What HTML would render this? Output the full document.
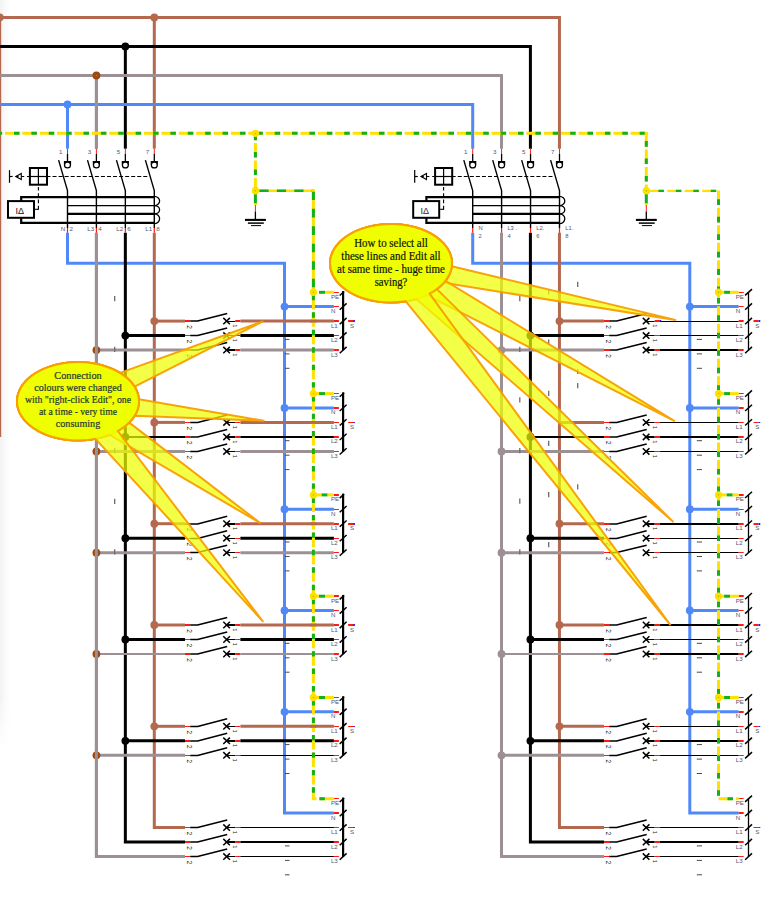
<!DOCTYPE html>
<html><head><meta charset="utf-8"><title>Wiring diagram</title>
<style>html,body{margin:0;padding:0;background:#fff;}svg{display:block;}</style></head>
<body>
<svg width="776" height="899" viewBox="0 0 776 899">
<defs><linearGradient id="sh" x1="0" x2="1" y1="0" y2="0"><stop offset="0" stop-color="#000" stop-opacity="0.052"/><stop offset="0.45" stop-color="#000" stop-opacity="0.022"/><stop offset="1" stop-color="#000" stop-opacity="0"/></linearGradient><linearGradient id="shm" x1="0" x2="0" y1="0" y2="1"><stop offset="0" stop-color="#fff"/><stop offset="0.775" stop-color="#fff"/><stop offset="0.835" stop-color="#000"/><stop offset="1" stop-color="#000"/></linearGradient><mask id="shmask" maskUnits="userSpaceOnUse" x="0" y="0" width="20" height="899"><rect x="0" y="0" width="20" height="899" fill="url(#shm)"/></mask></defs>
<rect width="776" height="899" fill="#fff"/>
<rect width="11" height="899" fill="url(#sh)" mask="url(#shmask)"/>
<path d="M-2 17.4 H559.45 V148.7" stroke="#b4694f" stroke-width="3" fill="none" stroke-linejoin="miter"/>
<path d="M-0.3 17.4 V437" stroke="#b4694f" stroke-width="3" fill="none" />
<path d="M154.3 17.4 V148.7" stroke="#b4694f" stroke-width="3" fill="none" />
<path d="M-2 46.4 H530.4 V148.7" stroke="#000" stroke-width="3" fill="none" />
<path d="M125.35 46.4 V148.7" stroke="#000" stroke-width="3" fill="none" />
<path d="M-2 75.5 H501.5 V148.7" stroke="#9d9094" stroke-width="3" fill="none" />
<path d="M-2 104.4 H472.7 V148.7" stroke="#5088f7" stroke-width="3" fill="none" />
<path d="M67.5 104.4 V148.7" stroke="#5088f7" stroke-width="3" fill="none" />
<path d="M67.5 232.8 V263.15 H284.5 V813.1 H333.9" stroke="#5088f7" stroke-width="3" fill="none" />
<line x1="284.5" y1="306.6" x2="333.9" y2="306.6" stroke="#5088f7" stroke-width="3" />
<line x1="284.5" y1="407.9" x2="333.9" y2="407.9" stroke="#5088f7" stroke-width="3" />
<line x1="284.5" y1="509.2" x2="333.9" y2="509.2" stroke="#5088f7" stroke-width="3" />
<line x1="284.5" y1="610.5" x2="333.9" y2="610.5" stroke="#5088f7" stroke-width="3" />
<line x1="284.5" y1="711.8" x2="333.9" y2="711.8" stroke="#5088f7" stroke-width="3" />
<path d="M154.3 232.8 V827.6 H185.0" stroke="#b4694f" stroke-width="3" fill="none" />
<path d="M125.35 232.8 V842.1 H185.0" stroke="#000" stroke-width="3" fill="none" />
<path d="M96.4 232.8 V856.6 H185.0" stroke="#9d9094" stroke-width="3" fill="none" />
<path d="M96.4 75.5 V148.7" stroke="#9d9094" stroke-width="3" fill="none" />
<line x1="154.3" y1="321.1" x2="185" y2="321.1" stroke="#b4694f" stroke-width="3" />
<line x1="125.35" y1="335.6" x2="185" y2="335.6" stroke="#000" stroke-width="3" />
<line x1="96.4" y1="350.1" x2="185" y2="350.1" stroke="#9d9094" stroke-width="3" />
<line x1="154.3" y1="422.4" x2="185" y2="422.4" stroke="#b4694f" stroke-width="3" />
<line x1="125.35" y1="436.9" x2="185" y2="436.9" stroke="#000" stroke-width="2" />
<line x1="96.4" y1="451.4" x2="185" y2="451.4" stroke="#9d9094" stroke-width="3" />
<line x1="154.3" y1="523.7" x2="185" y2="523.7" stroke="#b4694f" stroke-width="3" />
<line x1="125.35" y1="538.2" x2="185" y2="538.2" stroke="#000" stroke-width="3" />
<line x1="96.4" y1="552.7" x2="185" y2="552.7" stroke="#9d9094" stroke-width="3" />
<line x1="154.3" y1="625" x2="185" y2="625" stroke="#b4694f" stroke-width="3" />
<line x1="125.35" y1="639.5" x2="185" y2="639.5" stroke="#000" stroke-width="3" />
<line x1="96.4" y1="654" x2="185" y2="654" stroke="#9d9094" stroke-width="2.2" />
<line x1="154.3" y1="726.3" x2="185" y2="726.3" stroke="#b4694f" stroke-width="3" />
<line x1="125.35" y1="740.8" x2="185" y2="740.8" stroke="#000" stroke-width="3" />
<line x1="96.4" y1="755.3" x2="185" y2="755.3" stroke="#9d9094" stroke-width="3" />
<path d="M472.7 232.8 V263.15 H689.8 V813.1 H738.7" stroke="#5088f7" stroke-width="3" fill="none" />
<line x1="689.8" y1="306.6" x2="738.7" y2="306.6" stroke="#5088f7" stroke-width="3" />
<line x1="689.8" y1="407.9" x2="738.7" y2="407.9" stroke="#5088f7" stroke-width="3" />
<line x1="689.8" y1="509.2" x2="738.7" y2="509.2" stroke="#5088f7" stroke-width="3" />
<line x1="689.8" y1="610.5" x2="738.7" y2="610.5" stroke="#5088f7" stroke-width="3" />
<line x1="689.8" y1="711.8" x2="738.7" y2="711.8" stroke="#5088f7" stroke-width="3" />
<path d="M559.45 232.8 V827.6 H604.0" stroke="#b4694f" stroke-width="3" fill="none" />
<path d="M530.4 232.8 V842.1 H604.0" stroke="#000" stroke-width="3" fill="none" />
<path d="M501.5 232.8 V856.6 H604.0" stroke="#9d9094" stroke-width="3" fill="none" />
<line x1="559.45" y1="321.1" x2="604" y2="321.1" stroke="#b4694f" stroke-width="3" />
<line x1="530.4" y1="335.6" x2="604" y2="335.6" stroke="#000" stroke-width="3" />
<line x1="501.5" y1="350.1" x2="604" y2="350.1" stroke="#9d9094" stroke-width="3" />
<line x1="559.45" y1="422.4" x2="604" y2="422.4" stroke="#b4694f" stroke-width="3" />
<line x1="530.4" y1="436.9" x2="604" y2="436.9" stroke="#000" stroke-width="2" />
<line x1="501.5" y1="451.4" x2="604" y2="451.4" stroke="#9d9094" stroke-width="3" />
<line x1="559.45" y1="523.7" x2="604" y2="523.7" stroke="#b4694f" stroke-width="3" />
<line x1="530.4" y1="538.2" x2="604" y2="538.2" stroke="#000" stroke-width="3" />
<line x1="501.5" y1="552.7" x2="604" y2="552.7" stroke="#9d9094" stroke-width="3" />
<line x1="559.45" y1="625" x2="604" y2="625" stroke="#b4694f" stroke-width="3" />
<line x1="530.4" y1="639.5" x2="604" y2="639.5" stroke="#000" stroke-width="3" />
<line x1="501.5" y1="654" x2="604" y2="654" stroke="#9d9094" stroke-width="2.2" />
<line x1="559.45" y1="726.3" x2="604" y2="726.3" stroke="#b4694f" stroke-width="3" />
<line x1="530.4" y1="740.8" x2="604" y2="740.8" stroke="#000" stroke-width="3" />
<line x1="501.5" y1="755.3" x2="604" y2="755.3" stroke="#9d9094" stroke-width="3" />
<circle cx="154.3" cy="321.1" r="3.9" fill="#b4694f"/>
<circle cx="125.35" cy="335.6" r="3.9" fill="#000"/>
<circle cx="96.4" cy="350.1" r="3.9" fill="#9a4a12"/>
<circle cx="284.5" cy="306.6" r="3.9" fill="#5088f7"/>
<circle cx="154.3" cy="422.4" r="3.9" fill="#b4694f"/>
<circle cx="125.35" cy="436.9" r="3.9" fill="#000"/>
<circle cx="96.4" cy="451.4" r="3.9" fill="#9a4a12"/>
<circle cx="284.5" cy="407.9" r="3.9" fill="#5088f7"/>
<circle cx="154.3" cy="523.7" r="3.9" fill="#b4694f"/>
<circle cx="125.35" cy="538.2" r="3.9" fill="#000"/>
<circle cx="96.4" cy="552.7" r="3.9" fill="#9a4a12"/>
<circle cx="284.5" cy="509.2" r="3.9" fill="#5088f7"/>
<circle cx="154.3" cy="625" r="3.9" fill="#b4694f"/>
<circle cx="125.35" cy="639.5" r="3.9" fill="#000"/>
<circle cx="96.4" cy="654" r="3.9" fill="#9a4a12"/>
<circle cx="284.5" cy="610.5" r="3.9" fill="#5088f7"/>
<circle cx="154.3" cy="726.3" r="3.9" fill="#b4694f"/>
<circle cx="125.35" cy="740.8" r="3.9" fill="#000"/>
<circle cx="96.4" cy="755.3" r="3.9" fill="#9a4a12"/>
<circle cx="284.5" cy="711.8" r="3.9" fill="#5088f7"/>
<line x1="96.4" y1="75.5" x2="96.4" y2="148.7" stroke="#9d9094" stroke-width="3" />
<line x1="96.4" y1="232.8" x2="96.4" y2="856.6" stroke="#9d9094" stroke-width="3" />
<circle cx="559.45" cy="321.1" r="3.9" fill="#b4694f"/>
<circle cx="530.4" cy="335.6" r="3.9" fill="#000"/>
<circle cx="501.5" cy="350.1" r="3.9" fill="#9d9094"/>
<circle cx="689.8" cy="306.6" r="3.9" fill="#5088f7"/>
<circle cx="530.4" cy="436.9" r="3.9" fill="#000"/>
<circle cx="501.5" cy="451.4" r="3.9" fill="#9d9094"/>
<circle cx="689.8" cy="407.9" r="3.9" fill="#5088f7"/>
<circle cx="559.45" cy="523.7" r="3.9" fill="#b4694f"/>
<circle cx="530.4" cy="538.2" r="3.9" fill="#000"/>
<circle cx="501.5" cy="552.7" r="3.9" fill="#9d9094"/>
<circle cx="689.8" cy="509.2" r="3.9" fill="#5088f7"/>
<circle cx="559.45" cy="625" r="3.9" fill="#b4694f"/>
<circle cx="530.4" cy="639.5" r="3.9" fill="#000"/>
<circle cx="501.5" cy="654" r="3.9" fill="#9d9094"/>
<circle cx="689.8" cy="610.5" r="3.9" fill="#5088f7"/>
<circle cx="559.45" cy="726.3" r="3.9" fill="#b4694f"/>
<circle cx="530.4" cy="740.8" r="3.9" fill="#000"/>
<circle cx="501.5" cy="755.3" r="3.9" fill="#9d9094"/>
<circle cx="689.8" cy="711.8" r="3.9" fill="#5088f7"/>
<circle cx="-0.3" cy="17.4" r="3.9" fill="#b4694f"/>
<circle cx="154.3" cy="17.4" r="3.9" fill="#b4694f"/>
<circle cx="125.35" cy="46.4" r="3.9" fill="#000"/>
<circle cx="96.4" cy="75.5" r="3.9" fill="#9a4a12"/>
<circle cx="96.4" cy="75.5" r="0.8" fill="#c07838"/>
<circle cx="67.5" cy="104.4" r="3.9" fill="#5088f7"/>
<line x1="185" y1="321" x2="190.2" y2="321" stroke="#ff1a10" stroke-width="2" />
<path d="M190.2 321 H197.6 L227.2 313.6" stroke="#000" stroke-width="1.5" fill="none" stroke-linejoin="round"/>
<path d="M223.3 317.9 L229.9 324.3 M223.3 324.3 L229.9 317.9" stroke="#000" stroke-width="1.5" fill="none" />
<line x1="226.6" y1="321.5" x2="235.2" y2="321.5" stroke="#000" stroke-width="1" />
<line x1="235.2" y1="321" x2="240.4" y2="321" stroke="#ff1a10" stroke-width="2" />
<line x1="240.4" y1="321.1" x2="333.9" y2="321.1" stroke="#b4694f" stroke-width="3" />
<line x1="333.9" y1="321" x2="338.9" y2="321" stroke="#ff1a10" stroke-width="2" />
<text transform="translate(186.9 327.1) rotate(90)" font-family="'Liberation Sans', sans-serif" font-size="6.5" fill="#161616" text-anchor="middle">2</text>
<text transform="translate(233 325.9) rotate(90)" font-family="'Liberation Sans', sans-serif" font-size="5.6" fill="#222" text-anchor="middle">1</text>
<line x1="185" y1="335.5" x2="190.2" y2="335.5" stroke="#ff1a10" stroke-width="1" />
<path d="M190.2 335.5 H197.6 L227.2 328.1" stroke="#000" stroke-width="1.5" fill="none" stroke-linejoin="round"/>
<path d="M223.3 332.4 L229.9 338.8 M223.3 338.8 L229.9 332.4" stroke="#000" stroke-width="1.5" fill="none" />
<line x1="226.6" y1="335.5" x2="235.2" y2="335.5" stroke="#000" stroke-width="1" />
<line x1="235.2" y1="335.5" x2="240.4" y2="335.5" stroke="#ff1a10" stroke-width="1" />
<line x1="240.4" y1="335.6" x2="333.9" y2="335.6" stroke="#000" stroke-width="3" />
<line x1="333.9" y1="335.5" x2="338.9" y2="335.5" stroke="#ff1a10" stroke-width="1" />
<text transform="translate(186.9 341.6) rotate(90)" font-family="'Liberation Sans', sans-serif" font-size="6.5" fill="#161616" text-anchor="middle">2</text>
<text transform="translate(233 340.4) rotate(90)" font-family="'Liberation Sans', sans-serif" font-size="5.6" fill="#222" text-anchor="middle">1</text>
<line x1="185" y1="350" x2="190.2" y2="350" stroke="#ff1a10" stroke-width="2" />
<path d="M190.2 350 H197.6 L227.2 342.6" stroke="#000" stroke-width="1.5" fill="none" stroke-linejoin="round"/>
<path d="M223.3 346.9 L229.9 353.3 M223.3 353.3 L229.9 346.9" stroke="#000" stroke-width="1.5" fill="none" />
<line x1="226.6" y1="350" x2="235.2" y2="350" stroke="#000" stroke-width="2" />
<line x1="235.2" y1="350" x2="240.4" y2="350" stroke="#ff1a10" stroke-width="2" />
<line x1="240.4" y1="350.1" x2="333.9" y2="350.1" stroke="#9d9094" stroke-width="3" />
<line x1="333.9" y1="350" x2="338.9" y2="350" stroke="#ff1a10" stroke-width="2" />
<text transform="translate(186.9 356.1) rotate(90)" font-family="'Liberation Sans', sans-serif" font-size="6.5" fill="#161616" text-anchor="middle">2</text>
<text transform="translate(233 354.9) rotate(90)" font-family="'Liberation Sans', sans-serif" font-size="5.6" fill="#222" text-anchor="middle">1</text>
<line x1="333.9" y1="292.5" x2="338.9" y2="292.5" stroke="#ff1a10" stroke-width="1" />
<line x1="333.9" y1="306.5" x2="338.9" y2="306.5" stroke="#ff1a10" stroke-width="1" />
<line x1="343.1" y1="291.1" x2="343.1" y2="350.3" stroke="#000" stroke-width="2.2" />
<line x1="339.7" y1="295.5" x2="344.1" y2="291.5" stroke="#000" stroke-width="1.5" />
<text x="330.9" y="298.8" font-family="'Liberation Sans', sans-serif" font-size="6.2" fill="#56566e" text-anchor="start" >PE</text>
<line x1="339.7" y1="309.7" x2="346.6" y2="303.4" stroke="#000" stroke-width="1.5" />
<text x="330.9" y="313.1" font-family="'Liberation Sans', sans-serif" font-size="6.2" fill="#56566e" text-anchor="start" >N</text>
<line x1="339.7" y1="324.2" x2="346.6" y2="317.9" stroke="#000" stroke-width="1.5" />
<text x="330.9" y="327.6" font-family="'Liberation Sans', sans-serif" font-size="6.2" fill="#56566e" text-anchor="start" >L1</text>
<line x1="339.7" y1="338.7" x2="346.6" y2="332.4" stroke="#000" stroke-width="1.5" />
<text x="330.9" y="342.1" font-family="'Liberation Sans', sans-serif" font-size="6.2" fill="#56566e" text-anchor="start" >L2</text>
<line x1="339.7" y1="353.2" x2="346.6" y2="346.9" stroke="#000" stroke-width="1.5" />
<text x="330.9" y="356.6" font-family="'Liberation Sans', sans-serif" font-size="6.2" fill="#56566e" text-anchor="start" >L3</text>
<line x1="348.1" y1="321" x2="353.1" y2="321" stroke="#ff1a10" stroke-width="2" />
<line x1="353.1" y1="321" x2="354.9" y2="321" stroke="#3018f0" stroke-width="2" />
<text x="349.9" y="327.6" font-family="'Liberation Sans', sans-serif" font-size="6.2" fill="#56566e" text-anchor="start" >S</text>
<line x1="285" y1="339.4" x2="289.5" y2="339.4" stroke="#4a4a4a" stroke-width="1" />
<line x1="285" y1="353.9" x2="289.5" y2="353.9" stroke="#4a4a4a" stroke-width="1" />
<line x1="285" y1="368.3" x2="289.5" y2="368.3" stroke="#4a4a4a" stroke-width="1" />
<line x1="185" y1="422.5" x2="190.2" y2="422.5" stroke="#ff1a10" stroke-width="1" />
<path d="M190.2 422.5 H197.6 L227.2 414.9" stroke="#000" stroke-width="1.5" fill="none" stroke-linejoin="round"/>
<path d="M223.3 419.2 L229.9 425.6 M223.3 425.6 L229.9 419.2" stroke="#000" stroke-width="1.5" fill="none" />
<line x1="226.6" y1="422.5" x2="235.2" y2="422.5" stroke="#000" stroke-width="1" />
<line x1="235.2" y1="422.5" x2="240.4" y2="422.5" stroke="#ff1a10" stroke-width="1" />
<line x1="240.4" y1="422.4" x2="333.9" y2="422.4" stroke="#b4694f" stroke-width="3" />
<line x1="333.9" y1="422.5" x2="338.9" y2="422.5" stroke="#ff1a10" stroke-width="1" />
<text transform="translate(186.9 428.4) rotate(90)" font-family="'Liberation Sans', sans-serif" font-size="6.5" fill="#161616" text-anchor="middle">2</text>
<text transform="translate(233 427.2) rotate(90)" font-family="'Liberation Sans', sans-serif" font-size="5.6" fill="#222" text-anchor="middle">1</text>
<line x1="185" y1="437" x2="190.2" y2="437" stroke="#ff1a10" stroke-width="2" />
<path d="M190.2 437 H197.6 L227.2 429.4" stroke="#000" stroke-width="1.5" fill="none" stroke-linejoin="round"/>
<path d="M223.3 433.7 L229.9 440.1 M223.3 440.1 L229.9 433.7" stroke="#000" stroke-width="1.5" fill="none" />
<line x1="226.6" y1="437" x2="235.2" y2="437" stroke="#000" stroke-width="2" />
<line x1="235.2" y1="437" x2="240.4" y2="437" stroke="#ff1a10" stroke-width="2" />
<line x1="240.4" y1="437" x2="333.9" y2="437" stroke="#000" stroke-width="2" />
<line x1="333.9" y1="437" x2="338.9" y2="437" stroke="#ff1a10" stroke-width="2" />
<text transform="translate(186.9 442.9) rotate(90)" font-family="'Liberation Sans', sans-serif" font-size="6.5" fill="#161616" text-anchor="middle">2</text>
<text transform="translate(233 441.7) rotate(90)" font-family="'Liberation Sans', sans-serif" font-size="5.6" fill="#222" text-anchor="middle">1</text>
<line x1="185" y1="451.5" x2="190.2" y2="451.5" stroke="#ff1a10" stroke-width="1" />
<path d="M190.2 451.5 H197.6 L227.2 443.9" stroke="#000" stroke-width="1.5" fill="none" stroke-linejoin="round"/>
<path d="M223.3 448.2 L229.9 454.6 M223.3 454.6 L229.9 448.2" stroke="#000" stroke-width="1.5" fill="none" />
<line x1="226.6" y1="451.5" x2="235.2" y2="451.5" stroke="#000" stroke-width="1" />
<line x1="235.2" y1="451.5" x2="240.4" y2="451.5" stroke="#ff1a10" stroke-width="1" />
<line x1="240.4" y1="451.4" x2="333.9" y2="451.4" stroke="#9d9094" stroke-width="3" />
<line x1="333.9" y1="451.5" x2="338.9" y2="451.5" stroke="#ff1a10" stroke-width="1" />
<text transform="translate(186.9 457.4) rotate(90)" font-family="'Liberation Sans', sans-serif" font-size="6.5" fill="#161616" text-anchor="middle">2</text>
<text transform="translate(233 456.2) rotate(90)" font-family="'Liberation Sans', sans-serif" font-size="5.6" fill="#222" text-anchor="middle">1</text>
<line x1="333.9" y1="393.5" x2="338.9" y2="393.5" stroke="#ff1a10" stroke-width="1" />
<line x1="333.9" y1="408" x2="338.9" y2="408" stroke="#ff1a10" stroke-width="2" />
<line x1="343.1" y1="392.4" x2="343.1" y2="451.6" stroke="#000" stroke-width="2.2" />
<line x1="339.7" y1="396.8" x2="344.1" y2="392.8" stroke="#000" stroke-width="1.5" />
<text x="330.9" y="400.1" font-family="'Liberation Sans', sans-serif" font-size="6.2" fill="#56566e" text-anchor="start" >PE</text>
<line x1="339.7" y1="411" x2="346.6" y2="404.7" stroke="#000" stroke-width="1.5" />
<text x="330.9" y="414.4" font-family="'Liberation Sans', sans-serif" font-size="6.2" fill="#56566e" text-anchor="start" >N</text>
<line x1="339.7" y1="425.5" x2="346.6" y2="419.2" stroke="#000" stroke-width="1.5" />
<text x="330.9" y="428.9" font-family="'Liberation Sans', sans-serif" font-size="6.2" fill="#56566e" text-anchor="start" >L1</text>
<line x1="339.7" y1="440" x2="346.6" y2="433.7" stroke="#000" stroke-width="1.5" />
<text x="330.9" y="443.4" font-family="'Liberation Sans', sans-serif" font-size="6.2" fill="#56566e" text-anchor="start" >L2</text>
<line x1="339.7" y1="454.5" x2="346.6" y2="448.2" stroke="#000" stroke-width="1.5" />
<text x="330.9" y="457.9" font-family="'Liberation Sans', sans-serif" font-size="6.2" fill="#56566e" text-anchor="start" >L3</text>
<line x1="348.1" y1="422.5" x2="353.1" y2="422.5" stroke="#ff1a10" stroke-width="1" />
<line x1="353.1" y1="422.5" x2="354.9" y2="422.5" stroke="#3018f0" stroke-width="1" />
<text x="349.9" y="428.9" font-family="'Liberation Sans', sans-serif" font-size="6.2" fill="#56566e" text-anchor="start" >S</text>
<line x1="285" y1="440.7" x2="289.5" y2="440.7" stroke="#4a4a4a" stroke-width="1" />
<line x1="285" y1="455.2" x2="289.5" y2="455.2" stroke="#4a4a4a" stroke-width="1" />
<line x1="285" y1="469.6" x2="289.5" y2="469.6" stroke="#4a4a4a" stroke-width="1" />
<line x1="185" y1="524" x2="190.2" y2="524" stroke="#ff1a10" stroke-width="2" />
<path d="M190.2 524 H197.6 L227.2 516.2" stroke="#000" stroke-width="1.5" fill="none" stroke-linejoin="round"/>
<path d="M223.3 520.5 L229.9 526.9 M223.3 526.9 L229.9 520.5" stroke="#000" stroke-width="1.5" fill="none" />
<line x1="226.6" y1="524" x2="235.2" y2="524" stroke="#000" stroke-width="2" />
<line x1="235.2" y1="524" x2="240.4" y2="524" stroke="#ff1a10" stroke-width="2" />
<line x1="240.4" y1="523.7" x2="333.9" y2="523.7" stroke="#b4694f" stroke-width="3" />
<line x1="333.9" y1="524" x2="338.9" y2="524" stroke="#ff1a10" stroke-width="2" />
<text transform="translate(186.9 529.7) rotate(90)" font-family="'Liberation Sans', sans-serif" font-size="6.5" fill="#161616" text-anchor="middle">2</text>
<text transform="translate(233 528.5) rotate(90)" font-family="'Liberation Sans', sans-serif" font-size="5.6" fill="#222" text-anchor="middle">1</text>
<line x1="185" y1="538.5" x2="190.2" y2="538.5" stroke="#ff1a10" stroke-width="1" />
<path d="M190.2 538.5 H197.6 L227.2 530.7" stroke="#000" stroke-width="1.5" fill="none" stroke-linejoin="round"/>
<path d="M223.3 535 L229.9 541.4 M223.3 541.4 L229.9 535" stroke="#000" stroke-width="1.5" fill="none" />
<line x1="226.6" y1="538.5" x2="235.2" y2="538.5" stroke="#000" stroke-width="1" />
<line x1="235.2" y1="538.5" x2="240.4" y2="538.5" stroke="#ff1a10" stroke-width="1" />
<line x1="240.4" y1="538.2" x2="333.9" y2="538.2" stroke="#000" stroke-width="3" />
<line x1="333.9" y1="538.5" x2="338.9" y2="538.5" stroke="#ff1a10" stroke-width="1" />
<text transform="translate(186.9 544.2) rotate(90)" font-family="'Liberation Sans', sans-serif" font-size="6.5" fill="#161616" text-anchor="middle">2</text>
<text transform="translate(233 543) rotate(90)" font-family="'Liberation Sans', sans-serif" font-size="5.6" fill="#222" text-anchor="middle">1</text>
<line x1="185" y1="552.5" x2="190.2" y2="552.5" stroke="#ff1a10" stroke-width="1" />
<path d="M190.2 552.5 H197.6 L227.2 545.2" stroke="#000" stroke-width="1.5" fill="none" stroke-linejoin="round"/>
<path d="M223.3 549.5 L229.9 555.9 M223.3 555.9 L229.9 549.5" stroke="#000" stroke-width="1.5" fill="none" />
<line x1="226.6" y1="552.5" x2="235.2" y2="552.5" stroke="#000" stroke-width="1" />
<line x1="235.2" y1="552.5" x2="240.4" y2="552.5" stroke="#ff1a10" stroke-width="1" />
<line x1="240.4" y1="552.7" x2="333.9" y2="552.7" stroke="#9d9094" stroke-width="3" />
<line x1="333.9" y1="552.5" x2="338.9" y2="552.5" stroke="#ff1a10" stroke-width="1" />
<text transform="translate(186.9 558.7) rotate(90)" font-family="'Liberation Sans', sans-serif" font-size="6.5" fill="#161616" text-anchor="middle">2</text>
<text transform="translate(233 557.5) rotate(90)" font-family="'Liberation Sans', sans-serif" font-size="5.6" fill="#222" text-anchor="middle">1</text>
<line x1="333.9" y1="495" x2="338.9" y2="495" stroke="#ff1a10" stroke-width="2" />
<line x1="333.9" y1="509.5" x2="338.9" y2="509.5" stroke="#ff1a10" stroke-width="1" />
<line x1="343.1" y1="493.7" x2="343.1" y2="552.9" stroke="#000" stroke-width="2.2" />
<line x1="339.7" y1="498.1" x2="344.1" y2="494.1" stroke="#000" stroke-width="1.5" />
<text x="330.9" y="501.4" font-family="'Liberation Sans', sans-serif" font-size="6.2" fill="#56566e" text-anchor="start" >PE</text>
<line x1="339.7" y1="512.3" x2="346.6" y2="506" stroke="#000" stroke-width="1.5" />
<text x="330.9" y="515.7" font-family="'Liberation Sans', sans-serif" font-size="6.2" fill="#56566e" text-anchor="start" >N</text>
<line x1="339.7" y1="526.8" x2="346.6" y2="520.5" stroke="#000" stroke-width="1.5" />
<text x="330.9" y="530.2" font-family="'Liberation Sans', sans-serif" font-size="6.2" fill="#56566e" text-anchor="start" >L1</text>
<line x1="339.7" y1="541.3" x2="346.6" y2="535" stroke="#000" stroke-width="1.5" />
<text x="330.9" y="544.7" font-family="'Liberation Sans', sans-serif" font-size="6.2" fill="#56566e" text-anchor="start" >L2</text>
<line x1="339.7" y1="555.8" x2="346.6" y2="549.5" stroke="#000" stroke-width="1.5" />
<text x="330.9" y="559.2" font-family="'Liberation Sans', sans-serif" font-size="6.2" fill="#56566e" text-anchor="start" >L3</text>
<line x1="348.1" y1="524" x2="353.1" y2="524" stroke="#ff1a10" stroke-width="2" />
<line x1="353.1" y1="524" x2="354.9" y2="524" stroke="#3018f0" stroke-width="2" />
<text x="349.9" y="530.2" font-family="'Liberation Sans', sans-serif" font-size="6.2" fill="#56566e" text-anchor="start" >S</text>
<line x1="285" y1="542" x2="289.5" y2="542" stroke="#4a4a4a" stroke-width="1" />
<line x1="285" y1="556.5" x2="289.5" y2="556.5" stroke="#4a4a4a" stroke-width="1" />
<line x1="285" y1="570.9" x2="289.5" y2="570.9" stroke="#4a4a4a" stroke-width="1" />
<line x1="185" y1="625" x2="190.2" y2="625" stroke="#ff1a10" stroke-width="2" />
<path d="M190.2 625 H197.6 L227.2 617.5" stroke="#000" stroke-width="1.5" fill="none" stroke-linejoin="round"/>
<path d="M223.3 621.8 L229.9 628.2 M223.3 628.2 L229.9 621.8" stroke="#000" stroke-width="1.5" fill="none" />
<line x1="226.6" y1="625" x2="235.2" y2="625" stroke="#000" stroke-width="2" />
<line x1="235.2" y1="625" x2="240.4" y2="625" stroke="#ff1a10" stroke-width="2" />
<line x1="240.4" y1="625" x2="333.9" y2="625" stroke="#b4694f" stroke-width="3" />
<line x1="333.9" y1="625" x2="338.9" y2="625" stroke="#ff1a10" stroke-width="2" />
<text transform="translate(186.9 631) rotate(90)" font-family="'Liberation Sans', sans-serif" font-size="6.5" fill="#161616" text-anchor="middle">2</text>
<text transform="translate(233 629.8) rotate(90)" font-family="'Liberation Sans', sans-serif" font-size="5.6" fill="#222" text-anchor="middle">1</text>
<line x1="185" y1="639.5" x2="190.2" y2="639.5" stroke="#ff1a10" stroke-width="1" />
<path d="M190.2 639.5 H197.6 L227.2 632" stroke="#000" stroke-width="1.5" fill="none" stroke-linejoin="round"/>
<path d="M223.3 636.3 L229.9 642.7 M223.3 642.7 L229.9 636.3" stroke="#000" stroke-width="1.5" fill="none" />
<line x1="226.6" y1="639.5" x2="235.2" y2="639.5" stroke="#000" stroke-width="1" />
<line x1="235.2" y1="639.5" x2="240.4" y2="639.5" stroke="#ff1a10" stroke-width="1" />
<line x1="240.4" y1="639.5" x2="333.9" y2="639.5" stroke="#000" stroke-width="3" />
<line x1="333.9" y1="639.5" x2="338.9" y2="639.5" stroke="#ff1a10" stroke-width="1" />
<text transform="translate(186.9 645.5) rotate(90)" font-family="'Liberation Sans', sans-serif" font-size="6.5" fill="#161616" text-anchor="middle">2</text>
<text transform="translate(233 644.3) rotate(90)" font-family="'Liberation Sans', sans-serif" font-size="5.6" fill="#222" text-anchor="middle">1</text>
<line x1="185" y1="654" x2="190.2" y2="654" stroke="#ff1a10" stroke-width="2" />
<path d="M190.2 654 H197.6 L227.2 646.5" stroke="#000" stroke-width="1.5" fill="none" stroke-linejoin="round"/>
<path d="M223.3 650.8 L229.9 657.2 M223.3 657.2 L229.9 650.8" stroke="#000" stroke-width="1.5" fill="none" />
<line x1="226.6" y1="654" x2="235.2" y2="654" stroke="#000" stroke-width="2" />
<line x1="235.2" y1="654" x2="240.4" y2="654" stroke="#ff1a10" stroke-width="2" />
<line x1="240.4" y1="654" x2="333.9" y2="654" stroke="#9d9094" stroke-width="2.2" />
<line x1="333.9" y1="654" x2="338.9" y2="654" stroke="#ff1a10" stroke-width="2" />
<text transform="translate(186.9 660) rotate(90)" font-family="'Liberation Sans', sans-serif" font-size="6.5" fill="#161616" text-anchor="middle">2</text>
<text transform="translate(233 658.8) rotate(90)" font-family="'Liberation Sans', sans-serif" font-size="5.6" fill="#222" text-anchor="middle">1</text>
<line x1="333.9" y1="596" x2="338.9" y2="596" stroke="#ff1a10" stroke-width="2" />
<line x1="333.9" y1="610.5" x2="338.9" y2="610.5" stroke="#ff1a10" stroke-width="1" />
<line x1="343.1" y1="595" x2="343.1" y2="654.2" stroke="#000" stroke-width="2.2" />
<line x1="339.7" y1="599.4" x2="344.1" y2="595.4" stroke="#000" stroke-width="1.5" />
<text x="330.9" y="602.7" font-family="'Liberation Sans', sans-serif" font-size="6.2" fill="#56566e" text-anchor="start" >PE</text>
<line x1="339.7" y1="613.6" x2="346.6" y2="607.3" stroke="#000" stroke-width="1.5" />
<text x="330.9" y="617" font-family="'Liberation Sans', sans-serif" font-size="6.2" fill="#56566e" text-anchor="start" >N</text>
<line x1="339.7" y1="628.1" x2="346.6" y2="621.8" stroke="#000" stroke-width="1.5" />
<text x="330.9" y="631.5" font-family="'Liberation Sans', sans-serif" font-size="6.2" fill="#56566e" text-anchor="start" >L1</text>
<line x1="339.7" y1="642.6" x2="346.6" y2="636.3" stroke="#000" stroke-width="1.5" />
<text x="330.9" y="646" font-family="'Liberation Sans', sans-serif" font-size="6.2" fill="#56566e" text-anchor="start" >L2</text>
<line x1="339.7" y1="657.1" x2="346.6" y2="650.8" stroke="#000" stroke-width="1.5" />
<text x="330.9" y="660.5" font-family="'Liberation Sans', sans-serif" font-size="6.2" fill="#56566e" text-anchor="start" >L3</text>
<line x1="348.1" y1="625" x2="353.1" y2="625" stroke="#ff1a10" stroke-width="2" />
<line x1="353.1" y1="625" x2="354.9" y2="625" stroke="#3018f0" stroke-width="2" />
<text x="349.9" y="631.5" font-family="'Liberation Sans', sans-serif" font-size="6.2" fill="#56566e" text-anchor="start" >S</text>
<line x1="285" y1="643.3" x2="289.5" y2="643.3" stroke="#4a4a4a" stroke-width="1" />
<line x1="285" y1="657.8" x2="289.5" y2="657.8" stroke="#4a4a4a" stroke-width="1" />
<line x1="285" y1="672.2" x2="289.5" y2="672.2" stroke="#4a4a4a" stroke-width="1" />
<line x1="185" y1="726.5" x2="190.2" y2="726.5" stroke="#ff1a10" stroke-width="1" />
<path d="M190.2 726.5 H197.6 L227.2 718.8" stroke="#000" stroke-width="1.5" fill="none" stroke-linejoin="round"/>
<path d="M223.3 723.1 L229.9 729.5 M223.3 729.5 L229.9 723.1" stroke="#000" stroke-width="1.5" fill="none" />
<line x1="226.6" y1="726.5" x2="235.2" y2="726.5" stroke="#000" stroke-width="1" />
<line x1="235.2" y1="726.5" x2="240.4" y2="726.5" stroke="#ff1a10" stroke-width="1" />
<line x1="240.4" y1="726.3" x2="333.9" y2="726.3" stroke="#b4694f" stroke-width="3" />
<line x1="333.9" y1="726.5" x2="338.9" y2="726.5" stroke="#ff1a10" stroke-width="1" />
<text transform="translate(186.9 732.3) rotate(90)" font-family="'Liberation Sans', sans-serif" font-size="6.5" fill="#161616" text-anchor="middle">2</text>
<text transform="translate(233 731.1) rotate(90)" font-family="'Liberation Sans', sans-serif" font-size="5.6" fill="#222" text-anchor="middle">1</text>
<line x1="185" y1="741" x2="190.2" y2="741" stroke="#ff1a10" stroke-width="2" />
<path d="M190.2 741 H197.6 L227.2 733.3" stroke="#000" stroke-width="1.5" fill="none" stroke-linejoin="round"/>
<path d="M223.3 737.6 L229.9 744 M223.3 744 L229.9 737.6" stroke="#000" stroke-width="1.5" fill="none" />
<line x1="226.6" y1="741" x2="235.2" y2="741" stroke="#000" stroke-width="2" />
<line x1="235.2" y1="741" x2="240.4" y2="741" stroke="#ff1a10" stroke-width="2" />
<line x1="240.4" y1="740.8" x2="333.9" y2="740.8" stroke="#000" stroke-width="3" />
<line x1="333.9" y1="741" x2="338.9" y2="741" stroke="#ff1a10" stroke-width="2" />
<text transform="translate(186.9 746.8) rotate(90)" font-family="'Liberation Sans', sans-serif" font-size="6.5" fill="#161616" text-anchor="middle">2</text>
<text transform="translate(233 745.6) rotate(90)" font-family="'Liberation Sans', sans-serif" font-size="5.6" fill="#222" text-anchor="middle">1</text>
<line x1="185" y1="755.5" x2="190.2" y2="755.5" stroke="#ff1a10" stroke-width="1" />
<path d="M190.2 755.5 H197.6 L227.2 747.8" stroke="#000" stroke-width="1.5" fill="none" stroke-linejoin="round"/>
<path d="M223.3 752.1 L229.9 758.5 M223.3 758.5 L229.9 752.1" stroke="#000" stroke-width="1.5" fill="none" />
<line x1="226.6" y1="755.5" x2="235.2" y2="755.5" stroke="#000" stroke-width="1" />
<line x1="235.2" y1="755.5" x2="240.4" y2="755.5" stroke="#ff1a10" stroke-width="1" />
<line x1="240.4" y1="755.5" x2="333.9" y2="755.5" stroke="#000" stroke-width="1" />
<line x1="333.9" y1="755.5" x2="338.9" y2="755.5" stroke="#ff1a10" stroke-width="1" />
<text transform="translate(186.9 761.3) rotate(90)" font-family="'Liberation Sans', sans-serif" font-size="6.5" fill="#161616" text-anchor="middle">2</text>
<text transform="translate(233 760.1) rotate(90)" font-family="'Liberation Sans', sans-serif" font-size="5.6" fill="#222" text-anchor="middle">1</text>
<line x1="333.9" y1="697.5" x2="338.9" y2="697.5" stroke="#ff1a10" stroke-width="1" />
<line x1="333.9" y1="712" x2="338.9" y2="712" stroke="#ff1a10" stroke-width="2" />
<line x1="343.1" y1="696.3" x2="343.1" y2="755.5" stroke="#000" stroke-width="2.2" />
<line x1="339.7" y1="700.7" x2="344.1" y2="696.7" stroke="#000" stroke-width="1.5" />
<text x="330.9" y="704" font-family="'Liberation Sans', sans-serif" font-size="6.2" fill="#56566e" text-anchor="start" >PE</text>
<line x1="339.7" y1="714.9" x2="346.6" y2="708.6" stroke="#000" stroke-width="1.5" />
<text x="330.9" y="718.3" font-family="'Liberation Sans', sans-serif" font-size="6.2" fill="#56566e" text-anchor="start" >N</text>
<line x1="339.7" y1="729.4" x2="346.6" y2="723.1" stroke="#000" stroke-width="1.5" />
<text x="330.9" y="732.8" font-family="'Liberation Sans', sans-serif" font-size="6.2" fill="#56566e" text-anchor="start" >L1</text>
<line x1="339.7" y1="743.9" x2="346.6" y2="737.6" stroke="#000" stroke-width="1.5" />
<text x="330.9" y="747.3" font-family="'Liberation Sans', sans-serif" font-size="6.2" fill="#56566e" text-anchor="start" >L2</text>
<line x1="339.7" y1="758.4" x2="346.6" y2="752.1" stroke="#000" stroke-width="1.5" />
<text x="330.9" y="761.8" font-family="'Liberation Sans', sans-serif" font-size="6.2" fill="#56566e" text-anchor="start" >L3</text>
<line x1="348.1" y1="726.5" x2="353.1" y2="726.5" stroke="#ff1a10" stroke-width="1" />
<line x1="353.1" y1="726.5" x2="354.9" y2="726.5" stroke="#3018f0" stroke-width="1" />
<text x="349.9" y="732.8" font-family="'Liberation Sans', sans-serif" font-size="6.2" fill="#56566e" text-anchor="start" >S</text>
<line x1="285" y1="744.6" x2="289.5" y2="744.6" stroke="#4a4a4a" stroke-width="1" />
<line x1="285" y1="759.1" x2="289.5" y2="759.1" stroke="#4a4a4a" stroke-width="1" />
<line x1="285" y1="773.5" x2="289.5" y2="773.5" stroke="#4a4a4a" stroke-width="1" />
<line x1="185" y1="827.5" x2="190.2" y2="827.5" stroke="#ff1a10" stroke-width="1" />
<path d="M190.2 827.5 H197.6 L227.2 820.1" stroke="#000" stroke-width="1.5" fill="none" stroke-linejoin="round"/>
<path d="M223.3 824.4 L229.9 830.8 M223.3 830.8 L229.9 824.4" stroke="#000" stroke-width="1.5" fill="none" />
<line x1="226.6" y1="827.5" x2="235.2" y2="827.5" stroke="#000" stroke-width="1" />
<line x1="235.2" y1="827.5" x2="240.4" y2="827.5" stroke="#ff1a10" stroke-width="1" />
<line x1="240.4" y1="827.5" x2="333.9" y2="827.5" stroke="#000" stroke-width="1" />
<line x1="333.9" y1="827.5" x2="338.9" y2="827.5" stroke="#ff1a10" stroke-width="1" />
<text transform="translate(186.9 833.6) rotate(90)" font-family="'Liberation Sans', sans-serif" font-size="6.5" fill="#161616" text-anchor="middle">2</text>
<text transform="translate(233 832.4) rotate(90)" font-family="'Liberation Sans', sans-serif" font-size="5.6" fill="#222" text-anchor="middle">1</text>
<line x1="185" y1="842" x2="190.2" y2="842" stroke="#ff1a10" stroke-width="2" />
<path d="M190.2 842 H197.6 L227.2 834.6" stroke="#000" stroke-width="1.5" fill="none" stroke-linejoin="round"/>
<path d="M223.3 838.9 L229.9 845.3 M223.3 845.3 L229.9 838.9" stroke="#000" stroke-width="1.5" fill="none" />
<line x1="226.6" y1="842" x2="235.2" y2="842" stroke="#000" stroke-width="2" />
<line x1="235.2" y1="842" x2="240.4" y2="842" stroke="#ff1a10" stroke-width="2" />
<line x1="240.4" y1="842" x2="333.9" y2="842" stroke="#000" stroke-width="2" />
<line x1="333.9" y1="842" x2="338.9" y2="842" stroke="#ff1a10" stroke-width="2" />
<text transform="translate(186.9 848.1) rotate(90)" font-family="'Liberation Sans', sans-serif" font-size="6.5" fill="#161616" text-anchor="middle">2</text>
<text transform="translate(233 846.9) rotate(90)" font-family="'Liberation Sans', sans-serif" font-size="5.6" fill="#222" text-anchor="middle">1</text>
<line x1="185" y1="856.5" x2="190.2" y2="856.5" stroke="#ff1a10" stroke-width="1" />
<path d="M190.2 856.5 H197.6 L227.2 849.1" stroke="#000" stroke-width="1.5" fill="none" stroke-linejoin="round"/>
<path d="M223.3 853.4 L229.9 859.8 M223.3 859.8 L229.9 853.4" stroke="#000" stroke-width="1.5" fill="none" />
<line x1="226.6" y1="856.5" x2="235.2" y2="856.5" stroke="#000" stroke-width="1" />
<line x1="235.2" y1="856.5" x2="240.4" y2="856.5" stroke="#ff1a10" stroke-width="1" />
<line x1="240.4" y1="856.5" x2="333.9" y2="856.5" stroke="#000" stroke-width="1" />
<line x1="333.9" y1="856.5" x2="338.9" y2="856.5" stroke="#ff1a10" stroke-width="1" />
<text transform="translate(186.9 862.6) rotate(90)" font-family="'Liberation Sans', sans-serif" font-size="6.5" fill="#161616" text-anchor="middle">2</text>
<text transform="translate(233 861.4) rotate(90)" font-family="'Liberation Sans', sans-serif" font-size="5.6" fill="#222" text-anchor="middle">1</text>
<line x1="333.9" y1="798.5" x2="338.9" y2="798.5" stroke="#ff1a10" stroke-width="1" />
<line x1="333.9" y1="813" x2="338.9" y2="813" stroke="#ff1a10" stroke-width="2" />
<line x1="343.1" y1="797.6" x2="343.1" y2="856.8" stroke="#000" stroke-width="2.2" />
<line x1="339.7" y1="802" x2="344.1" y2="798" stroke="#000" stroke-width="1.5" />
<text x="330.9" y="805.3" font-family="'Liberation Sans', sans-serif" font-size="6.2" fill="#56566e" text-anchor="start" >PE</text>
<line x1="339.7" y1="816.2" x2="346.6" y2="809.9" stroke="#000" stroke-width="1.5" />
<text x="330.9" y="819.6" font-family="'Liberation Sans', sans-serif" font-size="6.2" fill="#56566e" text-anchor="start" >N</text>
<line x1="339.7" y1="830.7" x2="346.6" y2="824.4" stroke="#000" stroke-width="1.5" />
<text x="330.9" y="834.1" font-family="'Liberation Sans', sans-serif" font-size="6.2" fill="#56566e" text-anchor="start" >L1</text>
<line x1="339.7" y1="845.2" x2="346.6" y2="838.9" stroke="#000" stroke-width="1.5" />
<text x="330.9" y="848.6" font-family="'Liberation Sans', sans-serif" font-size="6.2" fill="#56566e" text-anchor="start" >L2</text>
<line x1="339.7" y1="859.7" x2="346.6" y2="853.4" stroke="#000" stroke-width="1.5" />
<text x="330.9" y="863.1" font-family="'Liberation Sans', sans-serif" font-size="6.2" fill="#56566e" text-anchor="start" >L3</text>
<line x1="348.1" y1="827.5" x2="353.1" y2="827.5" stroke="#ff1a10" stroke-width="1" />
<line x1="353.1" y1="827.5" x2="354.9" y2="827.5" stroke="#3018f0" stroke-width="1" />
<text x="349.9" y="834.1" font-family="'Liberation Sans', sans-serif" font-size="6.2" fill="#56566e" text-anchor="start" >S</text>
<line x1="285" y1="845.9" x2="289.5" y2="845.9" stroke="#4a4a4a" stroke-width="1" />
<line x1="285" y1="860.4" x2="289.5" y2="860.4" stroke="#4a4a4a" stroke-width="1" />
<line x1="285" y1="874.8" x2="289.5" y2="874.8" stroke="#4a4a4a" stroke-width="1" />
<line x1="604" y1="321" x2="609.2" y2="321" stroke="#ff1a10" stroke-width="2" />
<path d="M609.2 321 H616.6 L646.7 313.6" stroke="#000" stroke-width="1.5" fill="none" stroke-linejoin="round"/>
<path d="M642.8 317.9 L649.4 324.3 M642.8 324.3 L649.4 317.9" stroke="#000" stroke-width="1.5" fill="none" />
<line x1="646.1" y1="321.5" x2="654.7" y2="321.5" stroke="#000" stroke-width="1" />
<line x1="654.7" y1="321" x2="659.9" y2="321" stroke="#ff1a10" stroke-width="2" />
<line x1="659.7" y1="321" x2="661.3" y2="321" stroke="#3018f0" stroke-width="2" />
<line x1="659.9" y1="321.5" x2="738.7" y2="321.5" stroke="#000" stroke-width="1" />
<line x1="738.7" y1="321" x2="743.7" y2="321" stroke="#ff1a10" stroke-width="2" />
<text transform="translate(605.9 327.1) rotate(90)" font-family="'Liberation Sans', sans-serif" font-size="6.5" fill="#161616" text-anchor="middle">2</text>
<text transform="translate(652.5 325.9) rotate(90)" font-family="'Liberation Sans', sans-serif" font-size="5.6" fill="#222" text-anchor="middle">1</text>
<line x1="604" y1="335.5" x2="609.2" y2="335.5" stroke="#ff1a10" stroke-width="1" />
<path d="M609.2 335.5 H616.6 L646.7 328.1" stroke="#000" stroke-width="1.5" fill="none" stroke-linejoin="round"/>
<path d="M642.8 332.4 L649.4 338.8 M642.8 338.8 L649.4 332.4" stroke="#000" stroke-width="1.5" fill="none" />
<line x1="646.1" y1="335.5" x2="654.7" y2="335.5" stroke="#000" stroke-width="1" />
<line x1="654.7" y1="335.5" x2="659.9" y2="335.5" stroke="#ff1a10" stroke-width="1" />
<line x1="659.9" y1="335.5" x2="738.7" y2="335.5" stroke="#000" stroke-width="1" />
<line x1="738.7" y1="335.5" x2="743.7" y2="335.5" stroke="#ff1a10" stroke-width="1" />
<text transform="translate(605.9 341.6) rotate(90)" font-family="'Liberation Sans', sans-serif" font-size="6.5" fill="#161616" text-anchor="middle">2</text>
<text transform="translate(652.5 340.4) rotate(90)" font-family="'Liberation Sans', sans-serif" font-size="5.6" fill="#222" text-anchor="middle">1</text>
<line x1="604" y1="350" x2="609.2" y2="350" stroke="#ff1a10" stroke-width="2" />
<path d="M609.2 350 H616.6 L646.7 342.6" stroke="#000" stroke-width="1.5" fill="none" stroke-linejoin="round"/>
<path d="M642.8 346.9 L649.4 353.3 M642.8 353.3 L649.4 346.9" stroke="#000" stroke-width="1.5" fill="none" />
<line x1="646.1" y1="350" x2="654.7" y2="350" stroke="#000" stroke-width="2" />
<line x1="654.7" y1="350" x2="659.9" y2="350" stroke="#ff1a10" stroke-width="2" />
<line x1="659.9" y1="350" x2="738.7" y2="350" stroke="#000" stroke-width="2" />
<line x1="738.7" y1="350" x2="743.7" y2="350" stroke="#ff1a10" stroke-width="2" />
<text transform="translate(605.9 356.1) rotate(90)" font-family="'Liberation Sans', sans-serif" font-size="6.5" fill="#161616" text-anchor="middle">2</text>
<text transform="translate(652.5 354.9) rotate(90)" font-family="'Liberation Sans', sans-serif" font-size="5.6" fill="#222" text-anchor="middle">1</text>
<line x1="738.7" y1="292.5" x2="743.7" y2="292.5" stroke="#ff1a10" stroke-width="1" />
<line x1="738.7" y1="306.5" x2="743.7" y2="306.5" stroke="#ff1a10" stroke-width="1" />
<line x1="748.5" y1="292.3" x2="748.5" y2="350.3" stroke="#000" stroke-width="1.3" />
<line x1="745.1" y1="295.4" x2="752" y2="289.1" stroke="#000" stroke-width="1.5" />
<text x="735.7" y="298.8" font-family="'Liberation Sans', sans-serif" font-size="6.2" fill="#56566e" text-anchor="start" >PE</text>
<line x1="745.1" y1="309.7" x2="752" y2="303.4" stroke="#000" stroke-width="1.5" />
<text x="735.7" y="313.1" font-family="'Liberation Sans', sans-serif" font-size="6.2" fill="#56566e" text-anchor="start" >N</text>
<line x1="745.1" y1="324.2" x2="752" y2="317.9" stroke="#000" stroke-width="1.5" />
<text x="735.7" y="327.6" font-family="'Liberation Sans', sans-serif" font-size="6.2" fill="#56566e" text-anchor="start" >L1</text>
<line x1="745.1" y1="338.7" x2="752" y2="332.4" stroke="#000" stroke-width="1.5" />
<text x="735.7" y="342.1" font-family="'Liberation Sans', sans-serif" font-size="6.2" fill="#56566e" text-anchor="start" >L2</text>
<line x1="745.1" y1="353.2" x2="752" y2="346.9" stroke="#000" stroke-width="1.5" />
<text x="735.7" y="356.6" font-family="'Liberation Sans', sans-serif" font-size="6.2" fill="#56566e" text-anchor="start" >L3</text>
<line x1="753.5" y1="321" x2="758.5" y2="321" stroke="#ff1a10" stroke-width="2" />
<line x1="758.5" y1="321" x2="760.3" y2="321" stroke="#3018f0" stroke-width="2" />
<text x="755.3" y="327.6" font-family="'Liberation Sans', sans-serif" font-size="6.2" fill="#56566e" text-anchor="start" >S</text>
<line x1="696.8" y1="339.4" x2="702" y2="339.4" stroke="#4a4a4a" stroke-width="1" />
<line x1="696.8" y1="353.9" x2="702" y2="353.9" stroke="#4a4a4a" stroke-width="1" />
<line x1="696.8" y1="368.3" x2="702" y2="368.3" stroke="#4a4a4a" stroke-width="1" />
<line x1="604" y1="422.5" x2="609.2" y2="422.5" stroke="#ff1a10" stroke-width="1" />
<path d="M609.2 422.5 H616.6 L646.7 414.9" stroke="#000" stroke-width="1.5" fill="none" stroke-linejoin="round"/>
<path d="M642.8 419.2 L649.4 425.6 M642.8 425.6 L649.4 419.2" stroke="#000" stroke-width="1.5" fill="none" />
<line x1="646.1" y1="422.5" x2="654.7" y2="422.5" stroke="#000" stroke-width="1" />
<line x1="654.7" y1="422.5" x2="659.9" y2="422.5" stroke="#ff1a10" stroke-width="1" />
<line x1="659.9" y1="422.5" x2="738.7" y2="422.5" stroke="#000" stroke-width="1" />
<line x1="738.7" y1="422.5" x2="743.7" y2="422.5" stroke="#ff1a10" stroke-width="1" />
<text transform="translate(605.9 428.4) rotate(90)" font-family="'Liberation Sans', sans-serif" font-size="6.5" fill="#161616" text-anchor="middle">2</text>
<text transform="translate(652.5 427.2) rotate(90)" font-family="'Liberation Sans', sans-serif" font-size="5.6" fill="#222" text-anchor="middle">1</text>
<line x1="604" y1="437" x2="609.2" y2="437" stroke="#ff1a10" stroke-width="2" />
<path d="M609.2 437 H616.6 L646.7 429.4" stroke="#000" stroke-width="1.5" fill="none" stroke-linejoin="round"/>
<path d="M642.8 433.7 L649.4 440.1 M642.8 440.1 L649.4 433.7" stroke="#000" stroke-width="1.5" fill="none" />
<line x1="646.1" y1="437" x2="654.7" y2="437" stroke="#000" stroke-width="2" />
<line x1="654.7" y1="437" x2="659.9" y2="437" stroke="#ff1a10" stroke-width="2" />
<line x1="659.9" y1="437" x2="738.7" y2="437" stroke="#000" stroke-width="2" />
<line x1="738.7" y1="437" x2="743.7" y2="437" stroke="#ff1a10" stroke-width="2" />
<text transform="translate(605.9 442.9) rotate(90)" font-family="'Liberation Sans', sans-serif" font-size="6.5" fill="#161616" text-anchor="middle">2</text>
<text transform="translate(652.5 441.7) rotate(90)" font-family="'Liberation Sans', sans-serif" font-size="5.6" fill="#222" text-anchor="middle">1</text>
<line x1="604" y1="451.5" x2="609.2" y2="451.5" stroke="#ff1a10" stroke-width="1" />
<path d="M609.2 451.5 H616.6 L646.7 443.9" stroke="#000" stroke-width="1.5" fill="none" stroke-linejoin="round"/>
<path d="M642.8 448.2 L649.4 454.6 M642.8 454.6 L649.4 448.2" stroke="#000" stroke-width="1.5" fill="none" />
<line x1="646.1" y1="451.5" x2="654.7" y2="451.5" stroke="#000" stroke-width="1" />
<line x1="654.7" y1="451.5" x2="659.9" y2="451.5" stroke="#ff1a10" stroke-width="1" />
<line x1="659.9" y1="451.5" x2="738.7" y2="451.5" stroke="#000" stroke-width="1" />
<line x1="738.7" y1="451.5" x2="743.7" y2="451.5" stroke="#ff1a10" stroke-width="1" />
<text transform="translate(605.9 457.4) rotate(90)" font-family="'Liberation Sans', sans-serif" font-size="6.5" fill="#161616" text-anchor="middle">2</text>
<text transform="translate(652.5 456.2) rotate(90)" font-family="'Liberation Sans', sans-serif" font-size="5.6" fill="#222" text-anchor="middle">1</text>
<line x1="738.7" y1="393.5" x2="743.7" y2="393.5" stroke="#ff1a10" stroke-width="1" />
<line x1="738.7" y1="408" x2="743.7" y2="408" stroke="#ff1a10" stroke-width="2" />
<line x1="748.5" y1="393.6" x2="748.5" y2="451.6" stroke="#000" stroke-width="1.3" />
<line x1="745.1" y1="396.7" x2="752" y2="390.4" stroke="#000" stroke-width="1.5" />
<text x="735.7" y="400.1" font-family="'Liberation Sans', sans-serif" font-size="6.2" fill="#56566e" text-anchor="start" >PE</text>
<line x1="745.1" y1="411" x2="752" y2="404.7" stroke="#000" stroke-width="1.5" />
<text x="735.7" y="414.4" font-family="'Liberation Sans', sans-serif" font-size="6.2" fill="#56566e" text-anchor="start" >N</text>
<line x1="745.1" y1="425.5" x2="752" y2="419.2" stroke="#000" stroke-width="1.5" />
<text x="735.7" y="428.9" font-family="'Liberation Sans', sans-serif" font-size="6.2" fill="#56566e" text-anchor="start" >L1</text>
<line x1="745.1" y1="440" x2="752" y2="433.7" stroke="#000" stroke-width="1.5" />
<text x="735.7" y="443.4" font-family="'Liberation Sans', sans-serif" font-size="6.2" fill="#56566e" text-anchor="start" >L2</text>
<line x1="745.1" y1="454.5" x2="752" y2="448.2" stroke="#000" stroke-width="1.5" />
<text x="735.7" y="457.9" font-family="'Liberation Sans', sans-serif" font-size="6.2" fill="#56566e" text-anchor="start" >L3</text>
<line x1="753.5" y1="422.5" x2="758.5" y2="422.5" stroke="#ff1a10" stroke-width="1" />
<line x1="758.5" y1="422.5" x2="760.3" y2="422.5" stroke="#3018f0" stroke-width="1" />
<text x="755.3" y="428.9" font-family="'Liberation Sans', sans-serif" font-size="6.2" fill="#56566e" text-anchor="start" >S</text>
<line x1="696.8" y1="440.7" x2="702" y2="440.7" stroke="#4a4a4a" stroke-width="1" />
<line x1="696.8" y1="455.2" x2="702" y2="455.2" stroke="#4a4a4a" stroke-width="1" />
<line x1="696.8" y1="469.6" x2="702" y2="469.6" stroke="#4a4a4a" stroke-width="1" />
<line x1="604" y1="524" x2="609.2" y2="524" stroke="#ff1a10" stroke-width="2" />
<path d="M609.2 524 H616.6 L646.7 516.2" stroke="#000" stroke-width="1.5" fill="none" stroke-linejoin="round"/>
<path d="M642.8 520.5 L649.4 526.9 M642.8 526.9 L649.4 520.5" stroke="#000" stroke-width="1.5" fill="none" />
<line x1="646.1" y1="524" x2="654.7" y2="524" stroke="#000" stroke-width="2" />
<line x1="654.7" y1="524" x2="659.9" y2="524" stroke="#ff1a10" stroke-width="2" />
<line x1="659.9" y1="524" x2="738.7" y2="524" stroke="#000" stroke-width="2" />
<line x1="738.7" y1="524" x2="743.7" y2="524" stroke="#ff1a10" stroke-width="2" />
<text transform="translate(605.9 529.7) rotate(90)" font-family="'Liberation Sans', sans-serif" font-size="6.5" fill="#161616" text-anchor="middle">2</text>
<text transform="translate(652.5 528.5) rotate(90)" font-family="'Liberation Sans', sans-serif" font-size="5.6" fill="#222" text-anchor="middle">1</text>
<line x1="604" y1="538.5" x2="609.2" y2="538.5" stroke="#ff1a10" stroke-width="1" />
<path d="M609.2 538.5 H616.6 L646.7 530.7" stroke="#000" stroke-width="1.5" fill="none" stroke-linejoin="round"/>
<path d="M642.8 535 L649.4 541.4 M642.8 541.4 L649.4 535" stroke="#000" stroke-width="1.5" fill="none" />
<line x1="646.1" y1="538.5" x2="654.7" y2="538.5" stroke="#000" stroke-width="1" />
<line x1="654.7" y1="538.5" x2="659.9" y2="538.5" stroke="#ff1a10" stroke-width="1" />
<line x1="659.9" y1="538.5" x2="738.7" y2="538.5" stroke="#000" stroke-width="1" />
<line x1="738.7" y1="538.5" x2="743.7" y2="538.5" stroke="#ff1a10" stroke-width="1" />
<text transform="translate(605.9 544.2) rotate(90)" font-family="'Liberation Sans', sans-serif" font-size="6.5" fill="#161616" text-anchor="middle">2</text>
<text transform="translate(652.5 543) rotate(90)" font-family="'Liberation Sans', sans-serif" font-size="5.6" fill="#222" text-anchor="middle">1</text>
<line x1="604" y1="552.5" x2="609.2" y2="552.5" stroke="#ff1a10" stroke-width="1" />
<path d="M609.2 552.5 H616.6 L646.7 545.2" stroke="#000" stroke-width="1.5" fill="none" stroke-linejoin="round"/>
<path d="M642.8 549.5 L649.4 555.9 M642.8 555.9 L649.4 549.5" stroke="#000" stroke-width="1.5" fill="none" />
<line x1="646.1" y1="552.5" x2="654.7" y2="552.5" stroke="#000" stroke-width="1" />
<line x1="654.7" y1="552.5" x2="659.9" y2="552.5" stroke="#ff1a10" stroke-width="1" />
<line x1="659.9" y1="552.5" x2="738.7" y2="552.5" stroke="#000" stroke-width="1" />
<line x1="738.7" y1="552.5" x2="743.7" y2="552.5" stroke="#ff1a10" stroke-width="1" />
<text transform="translate(605.9 558.7) rotate(90)" font-family="'Liberation Sans', sans-serif" font-size="6.5" fill="#161616" text-anchor="middle">2</text>
<text transform="translate(652.5 557.5) rotate(90)" font-family="'Liberation Sans', sans-serif" font-size="5.6" fill="#222" text-anchor="middle">1</text>
<line x1="738.7" y1="495" x2="743.7" y2="495" stroke="#ff1a10" stroke-width="2" />
<line x1="738.7" y1="509.5" x2="743.7" y2="509.5" stroke="#ff1a10" stroke-width="1" />
<line x1="748.5" y1="494.9" x2="748.5" y2="552.9" stroke="#000" stroke-width="1.3" />
<line x1="745.1" y1="498" x2="752" y2="491.7" stroke="#000" stroke-width="1.5" />
<text x="735.7" y="501.4" font-family="'Liberation Sans', sans-serif" font-size="6.2" fill="#56566e" text-anchor="start" >PE</text>
<line x1="745.1" y1="512.3" x2="752" y2="506" stroke="#000" stroke-width="1.5" />
<text x="735.7" y="515.7" font-family="'Liberation Sans', sans-serif" font-size="6.2" fill="#56566e" text-anchor="start" >N</text>
<line x1="745.1" y1="526.8" x2="752" y2="520.5" stroke="#000" stroke-width="1.5" />
<text x="735.7" y="530.2" font-family="'Liberation Sans', sans-serif" font-size="6.2" fill="#56566e" text-anchor="start" >L1</text>
<line x1="745.1" y1="541.3" x2="752" y2="535" stroke="#000" stroke-width="1.5" />
<text x="735.7" y="544.7" font-family="'Liberation Sans', sans-serif" font-size="6.2" fill="#56566e" text-anchor="start" >L2</text>
<line x1="745.1" y1="555.8" x2="752" y2="549.5" stroke="#000" stroke-width="1.5" />
<text x="735.7" y="559.2" font-family="'Liberation Sans', sans-serif" font-size="6.2" fill="#56566e" text-anchor="start" >L3</text>
<line x1="753.5" y1="524" x2="758.5" y2="524" stroke="#ff1a10" stroke-width="2" />
<line x1="758.5" y1="524" x2="760.3" y2="524" stroke="#3018f0" stroke-width="2" />
<text x="755.3" y="530.2" font-family="'Liberation Sans', sans-serif" font-size="6.2" fill="#56566e" text-anchor="start" >S</text>
<line x1="696.8" y1="542" x2="702" y2="542" stroke="#4a4a4a" stroke-width="1" />
<line x1="696.8" y1="556.5" x2="702" y2="556.5" stroke="#4a4a4a" stroke-width="1" />
<line x1="696.8" y1="570.9" x2="702" y2="570.9" stroke="#4a4a4a" stroke-width="1" />
<line x1="604" y1="625" x2="609.2" y2="625" stroke="#ff1a10" stroke-width="2" />
<path d="M609.2 625 H616.6 L646.7 617.5" stroke="#000" stroke-width="1.5" fill="none" stroke-linejoin="round"/>
<path d="M642.8 621.8 L649.4 628.2 M642.8 628.2 L649.4 621.8" stroke="#000" stroke-width="1.5" fill="none" />
<line x1="646.1" y1="625" x2="654.7" y2="625" stroke="#000" stroke-width="2" />
<line x1="654.7" y1="625" x2="659.9" y2="625" stroke="#ff1a10" stroke-width="2" />
<line x1="659.9" y1="625" x2="738.7" y2="625" stroke="#000" stroke-width="2" />
<line x1="738.7" y1="625" x2="743.7" y2="625" stroke="#ff1a10" stroke-width="2" />
<text transform="translate(605.9 631) rotate(90)" font-family="'Liberation Sans', sans-serif" font-size="6.5" fill="#161616" text-anchor="middle">2</text>
<text transform="translate(652.5 629.8) rotate(90)" font-family="'Liberation Sans', sans-serif" font-size="5.6" fill="#222" text-anchor="middle">1</text>
<line x1="604" y1="639.5" x2="609.2" y2="639.5" stroke="#ff1a10" stroke-width="1" />
<path d="M609.2 639.5 H616.6 L646.7 632" stroke="#000" stroke-width="1.5" fill="none" stroke-linejoin="round"/>
<path d="M642.8 636.3 L649.4 642.7 M642.8 642.7 L649.4 636.3" stroke="#000" stroke-width="1.5" fill="none" />
<line x1="646.1" y1="639.5" x2="654.7" y2="639.5" stroke="#000" stroke-width="1" />
<line x1="654.7" y1="639.5" x2="659.9" y2="639.5" stroke="#ff1a10" stroke-width="1" />
<line x1="659.9" y1="639.5" x2="738.7" y2="639.5" stroke="#000" stroke-width="1" />
<line x1="738.7" y1="639.5" x2="743.7" y2="639.5" stroke="#ff1a10" stroke-width="1" />
<text transform="translate(605.9 645.5) rotate(90)" font-family="'Liberation Sans', sans-serif" font-size="6.5" fill="#161616" text-anchor="middle">2</text>
<text transform="translate(652.5 644.3) rotate(90)" font-family="'Liberation Sans', sans-serif" font-size="5.6" fill="#222" text-anchor="middle">1</text>
<line x1="604" y1="654" x2="609.2" y2="654" stroke="#ff1a10" stroke-width="2" />
<path d="M609.2 654 H616.6 L646.7 646.5" stroke="#000" stroke-width="1.5" fill="none" stroke-linejoin="round"/>
<path d="M642.8 650.8 L649.4 657.2 M642.8 657.2 L649.4 650.8" stroke="#000" stroke-width="1.5" fill="none" />
<line x1="646.1" y1="654" x2="654.7" y2="654" stroke="#000" stroke-width="2" />
<line x1="654.7" y1="654" x2="659.9" y2="654" stroke="#ff1a10" stroke-width="2" />
<line x1="659.9" y1="654" x2="738.7" y2="654" stroke="#000" stroke-width="2" />
<line x1="738.7" y1="654" x2="743.7" y2="654" stroke="#ff1a10" stroke-width="2" />
<text transform="translate(605.9 660) rotate(90)" font-family="'Liberation Sans', sans-serif" font-size="6.5" fill="#161616" text-anchor="middle">2</text>
<text transform="translate(652.5 658.8) rotate(90)" font-family="'Liberation Sans', sans-serif" font-size="5.6" fill="#222" text-anchor="middle">1</text>
<line x1="738.7" y1="596" x2="743.7" y2="596" stroke="#ff1a10" stroke-width="2" />
<line x1="738.7" y1="610.5" x2="743.7" y2="610.5" stroke="#ff1a10" stroke-width="1" />
<line x1="748.5" y1="596.2" x2="748.5" y2="654.2" stroke="#000" stroke-width="1.3" />
<line x1="745.1" y1="599.3" x2="752" y2="593" stroke="#000" stroke-width="1.5" />
<text x="735.7" y="602.7" font-family="'Liberation Sans', sans-serif" font-size="6.2" fill="#56566e" text-anchor="start" >PE</text>
<line x1="745.1" y1="613.6" x2="752" y2="607.3" stroke="#000" stroke-width="1.5" />
<text x="735.7" y="617" font-family="'Liberation Sans', sans-serif" font-size="6.2" fill="#56566e" text-anchor="start" >N</text>
<line x1="745.1" y1="628.1" x2="752" y2="621.8" stroke="#000" stroke-width="1.5" />
<text x="735.7" y="631.5" font-family="'Liberation Sans', sans-serif" font-size="6.2" fill="#56566e" text-anchor="start" >L1</text>
<line x1="745.1" y1="642.6" x2="752" y2="636.3" stroke="#000" stroke-width="1.5" />
<text x="735.7" y="646" font-family="'Liberation Sans', sans-serif" font-size="6.2" fill="#56566e" text-anchor="start" >L2</text>
<line x1="745.1" y1="657.1" x2="752" y2="650.8" stroke="#000" stroke-width="1.5" />
<text x="735.7" y="660.5" font-family="'Liberation Sans', sans-serif" font-size="6.2" fill="#56566e" text-anchor="start" >L3</text>
<line x1="753.5" y1="625" x2="758.5" y2="625" stroke="#ff1a10" stroke-width="2" />
<line x1="758.5" y1="625" x2="760.3" y2="625" stroke="#3018f0" stroke-width="2" />
<text x="755.3" y="631.5" font-family="'Liberation Sans', sans-serif" font-size="6.2" fill="#56566e" text-anchor="start" >S</text>
<line x1="696.8" y1="643.3" x2="702" y2="643.3" stroke="#4a4a4a" stroke-width="1" />
<line x1="696.8" y1="657.8" x2="702" y2="657.8" stroke="#4a4a4a" stroke-width="1" />
<line x1="696.8" y1="672.2" x2="702" y2="672.2" stroke="#4a4a4a" stroke-width="1" />
<line x1="604" y1="726.5" x2="609.2" y2="726.5" stroke="#ff1a10" stroke-width="1" />
<path d="M609.2 726.5 H616.6 L646.7 718.8" stroke="#000" stroke-width="1.5" fill="none" stroke-linejoin="round"/>
<path d="M642.8 723.1 L649.4 729.5 M642.8 729.5 L649.4 723.1" stroke="#000" stroke-width="1.5" fill="none" />
<line x1="646.1" y1="726.5" x2="654.7" y2="726.5" stroke="#000" stroke-width="1" />
<line x1="654.7" y1="726.5" x2="659.9" y2="726.5" stroke="#ff1a10" stroke-width="1" />
<line x1="659.9" y1="726.5" x2="738.7" y2="726.5" stroke="#000" stroke-width="1" />
<line x1="738.7" y1="726.5" x2="743.7" y2="726.5" stroke="#ff1a10" stroke-width="1" />
<text transform="translate(605.9 732.3) rotate(90)" font-family="'Liberation Sans', sans-serif" font-size="6.5" fill="#161616" text-anchor="middle">2</text>
<text transform="translate(652.5 731.1) rotate(90)" font-family="'Liberation Sans', sans-serif" font-size="5.6" fill="#222" text-anchor="middle">1</text>
<line x1="604" y1="741" x2="609.2" y2="741" stroke="#ff1a10" stroke-width="2" />
<path d="M609.2 741 H616.6 L646.7 733.3" stroke="#000" stroke-width="1.5" fill="none" stroke-linejoin="round"/>
<path d="M642.8 737.6 L649.4 744 M642.8 744 L649.4 737.6" stroke="#000" stroke-width="1.5" fill="none" />
<line x1="646.1" y1="741" x2="654.7" y2="741" stroke="#000" stroke-width="2" />
<line x1="654.7" y1="741" x2="659.9" y2="741" stroke="#ff1a10" stroke-width="2" />
<line x1="659.9" y1="741" x2="738.7" y2="741" stroke="#000" stroke-width="2" />
<line x1="738.7" y1="741" x2="743.7" y2="741" stroke="#ff1a10" stroke-width="2" />
<text transform="translate(605.9 746.8) rotate(90)" font-family="'Liberation Sans', sans-serif" font-size="6.5" fill="#161616" text-anchor="middle">2</text>
<text transform="translate(652.5 745.6) rotate(90)" font-family="'Liberation Sans', sans-serif" font-size="5.6" fill="#222" text-anchor="middle">1</text>
<line x1="604" y1="755.5" x2="609.2" y2="755.5" stroke="#ff1a10" stroke-width="1" />
<path d="M609.2 755.5 H616.6 L646.7 747.8" stroke="#000" stroke-width="1.5" fill="none" stroke-linejoin="round"/>
<path d="M642.8 752.1 L649.4 758.5 M642.8 758.5 L649.4 752.1" stroke="#000" stroke-width="1.5" fill="none" />
<line x1="646.1" y1="755.5" x2="654.7" y2="755.5" stroke="#000" stroke-width="1" />
<line x1="654.7" y1="755.5" x2="659.9" y2="755.5" stroke="#ff1a10" stroke-width="1" />
<line x1="659.9" y1="755.5" x2="738.7" y2="755.5" stroke="#000" stroke-width="1" />
<line x1="738.7" y1="755.5" x2="743.7" y2="755.5" stroke="#ff1a10" stroke-width="1" />
<text transform="translate(605.9 761.3) rotate(90)" font-family="'Liberation Sans', sans-serif" font-size="6.5" fill="#161616" text-anchor="middle">2</text>
<text transform="translate(652.5 760.1) rotate(90)" font-family="'Liberation Sans', sans-serif" font-size="5.6" fill="#222" text-anchor="middle">1</text>
<line x1="738.7" y1="697.5" x2="743.7" y2="697.5" stroke="#ff1a10" stroke-width="1" />
<line x1="738.7" y1="712" x2="743.7" y2="712" stroke="#ff1a10" stroke-width="2" />
<line x1="748.5" y1="697.5" x2="748.5" y2="755.5" stroke="#000" stroke-width="1.3" />
<line x1="745.1" y1="700.6" x2="752" y2="694.3" stroke="#000" stroke-width="1.5" />
<text x="735.7" y="704" font-family="'Liberation Sans', sans-serif" font-size="6.2" fill="#56566e" text-anchor="start" >PE</text>
<line x1="745.1" y1="714.9" x2="752" y2="708.6" stroke="#000" stroke-width="1.5" />
<text x="735.7" y="718.3" font-family="'Liberation Sans', sans-serif" font-size="6.2" fill="#56566e" text-anchor="start" >N</text>
<line x1="745.1" y1="729.4" x2="752" y2="723.1" stroke="#000" stroke-width="1.5" />
<text x="735.7" y="732.8" font-family="'Liberation Sans', sans-serif" font-size="6.2" fill="#56566e" text-anchor="start" >L1</text>
<line x1="745.1" y1="743.9" x2="752" y2="737.6" stroke="#000" stroke-width="1.5" />
<text x="735.7" y="747.3" font-family="'Liberation Sans', sans-serif" font-size="6.2" fill="#56566e" text-anchor="start" >L2</text>
<line x1="745.1" y1="758.4" x2="752" y2="752.1" stroke="#000" stroke-width="1.5" />
<text x="735.7" y="761.8" font-family="'Liberation Sans', sans-serif" font-size="6.2" fill="#56566e" text-anchor="start" >L3</text>
<line x1="753.5" y1="726.5" x2="758.5" y2="726.5" stroke="#ff1a10" stroke-width="1" />
<line x1="758.5" y1="726.5" x2="760.3" y2="726.5" stroke="#3018f0" stroke-width="1" />
<text x="755.3" y="732.8" font-family="'Liberation Sans', sans-serif" font-size="6.2" fill="#56566e" text-anchor="start" >S</text>
<line x1="696.8" y1="744.6" x2="702" y2="744.6" stroke="#4a4a4a" stroke-width="1" />
<line x1="696.8" y1="759.1" x2="702" y2="759.1" stroke="#4a4a4a" stroke-width="1" />
<line x1="696.8" y1="773.5" x2="702" y2="773.5" stroke="#4a4a4a" stroke-width="1" />
<line x1="604" y1="827.5" x2="609.2" y2="827.5" stroke="#ff1a10" stroke-width="1" />
<path d="M609.2 827.5 H616.6 L646.7 820.1" stroke="#000" stroke-width="1.5" fill="none" stroke-linejoin="round"/>
<path d="M642.8 824.4 L649.4 830.8 M642.8 830.8 L649.4 824.4" stroke="#000" stroke-width="1.5" fill="none" />
<line x1="646.1" y1="827.5" x2="654.7" y2="827.5" stroke="#000" stroke-width="1" />
<line x1="654.7" y1="827.5" x2="659.9" y2="827.5" stroke="#ff1a10" stroke-width="1" />
<line x1="659.9" y1="827.5" x2="738.7" y2="827.5" stroke="#000" stroke-width="1" />
<line x1="738.7" y1="827.5" x2="743.7" y2="827.5" stroke="#ff1a10" stroke-width="1" />
<text transform="translate(605.9 833.6) rotate(90)" font-family="'Liberation Sans', sans-serif" font-size="6.5" fill="#161616" text-anchor="middle">2</text>
<text transform="translate(652.5 832.4) rotate(90)" font-family="'Liberation Sans', sans-serif" font-size="5.6" fill="#222" text-anchor="middle">1</text>
<line x1="604" y1="842" x2="609.2" y2="842" stroke="#ff1a10" stroke-width="2" />
<path d="M609.2 842 H616.6 L646.7 834.6" stroke="#000" stroke-width="1.5" fill="none" stroke-linejoin="round"/>
<path d="M642.8 838.9 L649.4 845.3 M642.8 845.3 L649.4 838.9" stroke="#000" stroke-width="1.5" fill="none" />
<line x1="646.1" y1="842" x2="654.7" y2="842" stroke="#000" stroke-width="2" />
<line x1="654.7" y1="842" x2="659.9" y2="842" stroke="#ff1a10" stroke-width="2" />
<line x1="659.9" y1="842" x2="738.7" y2="842" stroke="#000" stroke-width="2" />
<line x1="738.7" y1="842" x2="743.7" y2="842" stroke="#ff1a10" stroke-width="2" />
<text transform="translate(605.9 848.1) rotate(90)" font-family="'Liberation Sans', sans-serif" font-size="6.5" fill="#161616" text-anchor="middle">2</text>
<text transform="translate(652.5 846.9) rotate(90)" font-family="'Liberation Sans', sans-serif" font-size="5.6" fill="#222" text-anchor="middle">1</text>
<line x1="604" y1="856.5" x2="609.2" y2="856.5" stroke="#ff1a10" stroke-width="1" />
<path d="M609.2 856.5 H616.6 L646.7 849.1" stroke="#000" stroke-width="1.5" fill="none" stroke-linejoin="round"/>
<path d="M642.8 853.4 L649.4 859.8 M642.8 859.8 L649.4 853.4" stroke="#000" stroke-width="1.5" fill="none" />
<line x1="646.1" y1="856.5" x2="654.7" y2="856.5" stroke="#000" stroke-width="1" />
<line x1="654.7" y1="856.5" x2="659.9" y2="856.5" stroke="#ff1a10" stroke-width="1" />
<line x1="659.9" y1="856.5" x2="738.7" y2="856.5" stroke="#000" stroke-width="1" />
<line x1="738.7" y1="856.5" x2="743.7" y2="856.5" stroke="#ff1a10" stroke-width="1" />
<text transform="translate(605.9 862.6) rotate(90)" font-family="'Liberation Sans', sans-serif" font-size="6.5" fill="#161616" text-anchor="middle">2</text>
<text transform="translate(652.5 861.4) rotate(90)" font-family="'Liberation Sans', sans-serif" font-size="5.6" fill="#222" text-anchor="middle">1</text>
<line x1="738.7" y1="798.5" x2="743.7" y2="798.5" stroke="#ff1a10" stroke-width="1" />
<line x1="738.7" y1="813" x2="743.7" y2="813" stroke="#ff1a10" stroke-width="2" />
<line x1="748.5" y1="798.8" x2="748.5" y2="856.8" stroke="#000" stroke-width="1.3" />
<line x1="745.1" y1="801.9" x2="752" y2="795.6" stroke="#000" stroke-width="1.5" />
<text x="735.7" y="805.3" font-family="'Liberation Sans', sans-serif" font-size="6.2" fill="#56566e" text-anchor="start" >PE</text>
<line x1="745.1" y1="816.2" x2="752" y2="809.9" stroke="#000" stroke-width="1.5" />
<text x="735.7" y="819.6" font-family="'Liberation Sans', sans-serif" font-size="6.2" fill="#56566e" text-anchor="start" >N</text>
<line x1="745.1" y1="830.7" x2="752" y2="824.4" stroke="#000" stroke-width="1.5" />
<text x="735.7" y="834.1" font-family="'Liberation Sans', sans-serif" font-size="6.2" fill="#56566e" text-anchor="start" >L1</text>
<line x1="745.1" y1="845.2" x2="752" y2="838.9" stroke="#000" stroke-width="1.5" />
<text x="735.7" y="848.6" font-family="'Liberation Sans', sans-serif" font-size="6.2" fill="#56566e" text-anchor="start" >L2</text>
<line x1="745.1" y1="859.7" x2="752" y2="853.4" stroke="#000" stroke-width="1.5" />
<text x="735.7" y="863.1" font-family="'Liberation Sans', sans-serif" font-size="6.2" fill="#56566e" text-anchor="start" >L3</text>
<line x1="753.5" y1="827.5" x2="758.5" y2="827.5" stroke="#ff1a10" stroke-width="1" />
<line x1="758.5" y1="827.5" x2="760.3" y2="827.5" stroke="#3018f0" stroke-width="1" />
<text x="755.3" y="834.1" font-family="'Liberation Sans', sans-serif" font-size="6.2" fill="#56566e" text-anchor="start" >S</text>
<line x1="696.8" y1="845.9" x2="702" y2="845.9" stroke="#4a4a4a" stroke-width="1" />
<line x1="696.8" y1="860.4" x2="702" y2="860.4" stroke="#4a4a4a" stroke-width="1" />
<line x1="696.8" y1="874.8" x2="702" y2="874.8" stroke="#4a4a4a" stroke-width="1" />
<path d="M0 133.35 H646.3" stroke="#ffe100" stroke-width="3" fill="none" stroke-dasharray="14.5 2.88" stroke-dashoffset="12.38"/>
<path d="M0 133.35 H646.3" stroke="#12b01a" stroke-width="3" fill="none" stroke-dasharray="5.5 11.88" stroke-dashoffset="3.38"/>
<path d="M255.4 133.35 V190.8" stroke="#ffe100" stroke-width="3" fill="none" stroke-dasharray="14.6 2.85" stroke-dashoffset="7.8"/>
<path d="M255.4 133.35 V190.8" stroke="#12b01a" stroke-width="3" fill="none" stroke-dasharray="5.6 11.85" stroke-dashoffset="-1.2"/>
<path d="M646.3 131.85 V190.8" stroke="#ffe100" stroke-width="3" fill="none" stroke-dasharray="14.6 2.85" stroke-dashoffset="-0.2"/>
<path d="M646.3 131.85 V190.8" stroke="#12b01a" stroke-width="3" fill="none" stroke-dasharray="5.6 11.85" stroke-dashoffset="-9.2"/>
<path d="M644.8 133.35 H647.8" stroke="#ffe100" stroke-width="3" fill="none" />
<line x1="255.4" y1="190.8" x2="255.4" y2="203.6" stroke="#12b01a" stroke-width="3" />
<line x1="255.4" y1="203.4" x2="255.4" y2="205" stroke="#ffe100" stroke-width="3" />
<line x1="255.4" y1="205" x2="255.4" y2="211.5" stroke="#ff1a10" stroke-width="1" />
<line x1="255.4" y1="211.5" x2="255.4" y2="219.5" stroke="#000" stroke-width="1.3" />
<line x1="245" y1="219.9" x2="265.9" y2="219.9" stroke="#000" stroke-width="2.1" />
<line x1="247.9" y1="223.1" x2="263.8" y2="223.1" stroke="#000" stroke-width="1.5" />
<line x1="251" y1="225.6" x2="261" y2="225.6" stroke="#000" stroke-width="1" />
<line x1="646.3" y1="190.8" x2="646.3" y2="203.6" stroke="#12b01a" stroke-width="3" />
<line x1="646.3" y1="203.4" x2="646.3" y2="205" stroke="#ffe100" stroke-width="3" />
<line x1="646.3" y1="205" x2="646.3" y2="211.5" stroke="#ff1a10" stroke-width="1" />
<line x1="646.3" y1="211.5" x2="646.3" y2="219.5" stroke="#000" stroke-width="1.3" />
<line x1="635.9" y1="219.9" x2="656.8" y2="219.9" stroke="#000" stroke-width="2.1" />
<line x1="638.8" y1="223.1" x2="654.7" y2="223.1" stroke="#000" stroke-width="1.5" />
<line x1="641.9" y1="225.6" x2="651.9" y2="225.6" stroke="#000" stroke-width="1" />
<path d="M255.4 190.8 H313.4" stroke="#ffe100" stroke-width="2.5" fill="none" />
<path d="M255.4 190.8 H313.4" stroke="#12b01a" stroke-width="2.5" fill="none" stroke-dasharray="9.2 8.25" stroke-dashoffset="-4"/>
<path d="M313.4 189.6 V292.3" stroke="#ffe100" stroke-width="3" fill="none" />
<path d="M313.4 189.6 V292.3" stroke="#12b01a" stroke-width="3" fill="none" stroke-dasharray="8.6 8.85" stroke-dashoffset="-1.8"/>
<rect x="311.9" y="189.55" width="3" height="2" fill="#ffe100"/>
<path d="M646.3 190.8 H718.5" stroke="#ffe100" stroke-width="2.2" fill="none" stroke-dasharray="14.1 3.35" stroke-dashoffset="-3.5"/>
<path d="M646.3 190.8 H718.5" stroke="#12b01a" stroke-width="2.2" fill="none" stroke-dasharray="5.5 11.95" stroke-dashoffset="-12.1"/>
<path d="M718.5 189.7 V292.3" stroke="#ffe100" stroke-width="3" fill="none" stroke-dasharray="14.7 2.75" stroke-dashoffset="-0.7"/>
<path d="M718.5 189.7 V292.3" stroke="#12b01a" stroke-width="3" fill="none" stroke-dasharray="5.8 11.65" stroke-dashoffset="-9.6"/>
<path d="M313.4 292.3 V393.6" stroke="#ffe100" stroke-width="3" fill="none" stroke-dasharray="14.5 2.95" stroke-dashoffset="-2.6"/>
<path d="M313.4 292.3 V393.6" stroke="#12b01a" stroke-width="3" fill="none" stroke-dasharray="5.4 12.05" stroke-dashoffset="-2.6"/>
<path d="M313.4 393.6 V494.9" stroke="#ffe100" stroke-width="3" fill="none" stroke-dasharray="14.5 2.95" stroke-dashoffset="-2.6"/>
<path d="M313.4 393.6 V494.9" stroke="#12b01a" stroke-width="3" fill="none" stroke-dasharray="5.4 12.05" stroke-dashoffset="-2.6"/>
<path d="M313.4 494.9 V596.2" stroke="#ffe100" stroke-width="3" fill="none" stroke-dasharray="14.5 2.95" stroke-dashoffset="-2.6"/>
<path d="M313.4 494.9 V596.2" stroke="#12b01a" stroke-width="3" fill="none" stroke-dasharray="5.4 12.05" stroke-dashoffset="-2.6"/>
<path d="M313.4 596.2 V697.5" stroke="#ffe100" stroke-width="3" fill="none" stroke-dasharray="14.5 2.95" stroke-dashoffset="-2.6"/>
<path d="M313.4 596.2 V697.5" stroke="#12b01a" stroke-width="3" fill="none" stroke-dasharray="5.4 12.05" stroke-dashoffset="-2.6"/>
<path d="M313.4 697.5 V798.8 H333.9" stroke="#ffe100" stroke-width="3" fill="none" stroke-dasharray="14.5 2.95" stroke-dashoffset="-2.6"/>
<path d="M313.4 697.5 V798.8 H333.9" stroke="#12b01a" stroke-width="3" fill="none" stroke-dasharray="5.4 12.05" stroke-dashoffset="-2.6"/>
<line x1="319" y1="292.3" x2="325" y2="292.3" stroke="#12b01a" stroke-width="3" />
<line x1="325" y1="292.3" x2="333.9" y2="292.3" stroke="#ffe100" stroke-width="3" />
<line x1="313.4" y1="393.6" x2="319" y2="393.6" stroke="#ffe100" stroke-width="3" />
<line x1="319" y1="393.6" x2="325" y2="393.6" stroke="#12b01a" stroke-width="3" />
<line x1="325" y1="393.6" x2="333.9" y2="393.6" stroke="#ffe100" stroke-width="3" />
<line x1="313.4" y1="494.9" x2="321.6" y2="494.9" stroke="#ffe100" stroke-width="3" />
<line x1="321.6" y1="494.9" x2="327.6" y2="494.9" stroke="#12b01a" stroke-width="3" />
<line x1="327.6" y1="494.9" x2="333.9" y2="494.9" stroke="#ffe100" stroke-width="3" />
<line x1="313.4" y1="596.2" x2="319" y2="596.2" stroke="#ffe100" stroke-width="3" />
<line x1="319" y1="596.2" x2="325" y2="596.2" stroke="#12b01a" stroke-width="3" />
<line x1="325" y1="596.2" x2="333.9" y2="596.2" stroke="#ffe100" stroke-width="3" />
<line x1="313.4" y1="697.5" x2="319" y2="697.5" stroke="#ffe100" stroke-width="3" />
<line x1="319" y1="697.5" x2="325" y2="697.5" stroke="#12b01a" stroke-width="3" />
<line x1="325" y1="697.5" x2="333.9" y2="697.5" stroke="#ffe100" stroke-width="3" />
<path d="M718.5 292.3 V393.6" stroke="#ffe100" stroke-width="3" fill="none" stroke-dasharray="14.5 2.95" stroke-dashoffset="3.4"/>
<path d="M718.5 292.3 V393.6" stroke="#12b01a" stroke-width="3" fill="none" stroke-dasharray="5.5 11.95" stroke-dashoffset="-5.6"/>
<path d="M718.5 393.6 V494.9" stroke="#ffe100" stroke-width="3" fill="none" stroke-dasharray="14.5 2.95" stroke-dashoffset="3.4"/>
<path d="M718.5 393.6 V494.9" stroke="#12b01a" stroke-width="3" fill="none" stroke-dasharray="5.5 11.95" stroke-dashoffset="-5.6"/>
<path d="M718.5 494.9 V596.2" stroke="#ffe100" stroke-width="3" fill="none" stroke-dasharray="14.5 2.95" stroke-dashoffset="3.4"/>
<path d="M718.5 494.9 V596.2" stroke="#12b01a" stroke-width="3" fill="none" stroke-dasharray="5.5 11.95" stroke-dashoffset="-5.6"/>
<path d="M718.5 596.2 V697.5" stroke="#ffe100" stroke-width="3" fill="none" stroke-dasharray="14.5 2.95" stroke-dashoffset="3.4"/>
<path d="M718.5 596.2 V697.5" stroke="#12b01a" stroke-width="3" fill="none" stroke-dasharray="5.5 11.95" stroke-dashoffset="-5.6"/>
<path d="M718.5 697.5 V798.8 H738.7" stroke="#ffe100" stroke-width="3" fill="none" stroke-dasharray="14.5 2.95" stroke-dashoffset="3.4"/>
<path d="M718.5 697.5 V798.8 H738.7" stroke="#12b01a" stroke-width="3" fill="none" stroke-dasharray="5.5 11.95" stroke-dashoffset="-5.6"/>
<line x1="718.5" y1="292.3" x2="724.1" y2="292.3" stroke="#ffe100" stroke-width="3" />
<line x1="724.1" y1="292.3" x2="730.1" y2="292.3" stroke="#12b01a" stroke-width="3" />
<line x1="730.1" y1="292.3" x2="738.7" y2="292.3" stroke="#ffe100" stroke-width="3" />
<line x1="718.5" y1="393.6" x2="724.1" y2="393.6" stroke="#ffe100" stroke-width="3" />
<line x1="724.1" y1="393.6" x2="730.1" y2="393.6" stroke="#12b01a" stroke-width="3" />
<line x1="730.1" y1="393.6" x2="738.7" y2="393.6" stroke="#ffe100" stroke-width="3" />
<line x1="718.5" y1="494.9" x2="726.7" y2="494.9" stroke="#ffe100" stroke-width="3" />
<line x1="726.7" y1="494.9" x2="732.7" y2="494.9" stroke="#12b01a" stroke-width="3" />
<line x1="732.7" y1="494.9" x2="738.7" y2="494.9" stroke="#ffe100" stroke-width="3" />
<line x1="718.5" y1="596.2" x2="724.1" y2="596.2" stroke="#ffe100" stroke-width="3" />
<line x1="724.1" y1="596.2" x2="730.1" y2="596.2" stroke="#12b01a" stroke-width="3" />
<line x1="730.1" y1="596.2" x2="738.7" y2="596.2" stroke="#ffe100" stroke-width="3" />
<line x1="718.5" y1="697.5" x2="724.1" y2="697.5" stroke="#ffe100" stroke-width="3" />
<line x1="724.1" y1="697.5" x2="730.1" y2="697.5" stroke="#12b01a" stroke-width="3" />
<line x1="730.1" y1="697.5" x2="738.7" y2="697.5" stroke="#ffe100" stroke-width="3" />
<line x1="310.4" y1="321.1" x2="316.4" y2="321.1" stroke="#b4694f" stroke-width="3" />
<line x1="310.4" y1="422.4" x2="316.4" y2="422.4" stroke="#b4694f" stroke-width="3" />
<line x1="310.4" y1="523.7" x2="316.4" y2="523.7" stroke="#b4694f" stroke-width="3" />
<line x1="310.4" y1="625" x2="316.4" y2="625" stroke="#b4694f" stroke-width="3" />
<line x1="310.4" y1="726.3" x2="316.4" y2="726.3" stroke="#b4694f" stroke-width="3" />
<circle cx="255.4" cy="133.35" r="3.7" fill="#ffe100"/>
<circle cx="255.4" cy="133.35" r="0.7" fill="#9aba10"/>
<circle cx="255.4" cy="190.8" r="3.7" fill="#ffe100"/>
<circle cx="255.4" cy="190.8" r="0.7" fill="#9aba10"/>
<circle cx="646.3" cy="190.8" r="3.7" fill="#ffe100"/>
<circle cx="646.3" cy="190.8" r="0.7" fill="#9aba10"/>
<circle cx="313.4" cy="292.3" r="3.7" fill="#ffe100"/>
<circle cx="313.4" cy="292.3" r="0.7" fill="#9aba10"/>
<circle cx="313.4" cy="393.6" r="3.7" fill="#ffe100"/>
<circle cx="313.4" cy="393.6" r="0.7" fill="#9aba10"/>
<circle cx="313.4" cy="494.9" r="3.7" fill="#ffe100"/>
<circle cx="313.4" cy="494.9" r="0.7" fill="#9aba10"/>
<circle cx="313.4" cy="596.2" r="3.7" fill="#ffe100"/>
<circle cx="313.4" cy="596.2" r="0.7" fill="#9aba10"/>
<circle cx="313.4" cy="697.5" r="3.7" fill="#ffe100"/>
<circle cx="313.4" cy="697.5" r="0.7" fill="#9aba10"/>
<circle cx="718.5" cy="292.3" r="3.7" fill="#ffe100"/>
<circle cx="718.5" cy="292.3" r="0.7" fill="#9aba10"/>
<circle cx="718.5" cy="393.6" r="3.7" fill="#ffe100"/>
<circle cx="718.5" cy="393.6" r="0.7" fill="#9aba10"/>
<circle cx="718.5" cy="494.9" r="3.7" fill="#ffe100"/>
<circle cx="718.5" cy="494.9" r="0.7" fill="#9aba10"/>
<circle cx="718.5" cy="596.2" r="3.7" fill="#ffe100"/>
<circle cx="718.5" cy="596.2" r="0.7" fill="#9aba10"/>
<circle cx="718.5" cy="697.5" r="3.7" fill="#ffe100"/>
<circle cx="718.5" cy="697.5" r="0.7" fill="#9aba10"/>
<line x1="114.7" y1="296.1" x2="114.7" y2="301.3" stroke="#6a6a6a" stroke-width="1.3" />
<line x1="114.7" y1="346.7" x2="114.7" y2="351.9" stroke="#6a6a6a" stroke-width="1.3" />
<line x1="577.7" y1="281.7" x2="577.7" y2="286.9" stroke="#6a6a6a" stroke-width="1.3" />
<line x1="548.7" y1="289.4" x2="548.7" y2="294.6" stroke="#6a6a6a" stroke-width="1.3" />
<line x1="519.8" y1="296" x2="519.8" y2="301.2" stroke="#6a6a6a" stroke-width="1.3" />
<line x1="548.7" y1="339.4" x2="548.7" y2="344.6" stroke="#6a6a6a" stroke-width="1.3" />
<line x1="519.8" y1="346.7" x2="519.8" y2="351.9" stroke="#6a6a6a" stroke-width="1.3" />
<line x1="114.7" y1="397.4" x2="114.7" y2="402.6" stroke="#6a6a6a" stroke-width="1.3" />
<line x1="114.7" y1="448" x2="114.7" y2="453.2" stroke="#6a6a6a" stroke-width="1.3" />
<line x1="577.7" y1="383" x2="577.7" y2="388.2" stroke="#6a6a6a" stroke-width="1.3" />
<line x1="548.7" y1="390.7" x2="548.7" y2="395.9" stroke="#6a6a6a" stroke-width="1.3" />
<line x1="519.8" y1="397.3" x2="519.8" y2="402.5" stroke="#6a6a6a" stroke-width="1.3" />
<line x1="548.7" y1="440.7" x2="548.7" y2="445.9" stroke="#6a6a6a" stroke-width="1.3" />
<line x1="519.8" y1="448" x2="519.8" y2="453.2" stroke="#6a6a6a" stroke-width="1.3" />
<line x1="114.7" y1="498.7" x2="114.7" y2="503.9" stroke="#6a6a6a" stroke-width="1.3" />
<line x1="114.7" y1="549.3" x2="114.7" y2="554.5" stroke="#6a6a6a" stroke-width="1.3" />
<line x1="577.7" y1="484.3" x2="577.7" y2="489.5" stroke="#6a6a6a" stroke-width="1.3" />
<line x1="548.7" y1="492" x2="548.7" y2="497.2" stroke="#6a6a6a" stroke-width="1.3" />
<line x1="519.8" y1="498.6" x2="519.8" y2="503.8" stroke="#6a6a6a" stroke-width="1.3" />
<line x1="548.7" y1="542" x2="548.7" y2="547.2" stroke="#6a6a6a" stroke-width="1.3" />
<line x1="519.8" y1="549.3" x2="519.8" y2="554.5" stroke="#6a6a6a" stroke-width="1.3" />
<line x1="577.7" y1="368.9" x2="577.7" y2="374.1" stroke="#6a6a6a" stroke-width="1.3" />
<line x1="67.5" y1="148.7" x2="67.5" y2="154" stroke="#ff1a10" stroke-width="1" />
<line x1="67.5" y1="154" x2="67.5" y2="161.3" stroke="#000" stroke-width="1.3" />
<path fill-rule="evenodd" fill="#000" d="M63.9 161.1 H71.1 V164.9 A3.6 3.6 0 0 1 63.9 164.9 Z M65.15 164.95 A2.35 2.3 0 0 0 69.85 164.95 A2.35 2.3 0 0 0 65.15 164.95 Z"/>
<path d="M58.6 160.1 L67.5 190.6 V228" stroke="#000" stroke-width="1.4" fill="none" stroke-linejoin="round"/>
<line x1="67.5" y1="228" x2="67.5" y2="232.8" stroke="#ff1a10" stroke-width="1.2" />
<text x="58.9" y="154.1" font-family="'Liberation Sans', sans-serif" font-size="6.2" fill="#56566e" text-anchor="start" >1</text>
<line x1="96.4" y1="148.7" x2="96.4" y2="154" stroke="#ff1a10" stroke-width="1" />
<line x1="96.4" y1="154" x2="96.4" y2="161.3" stroke="#000" stroke-width="1.3" />
<path fill-rule="evenodd" fill="#000" d="M92.8 161.1 H100 V164.9 A3.6 3.6 0 0 1 92.8 164.9 Z M94.05 164.95 A2.35 2.3 0 0 0 98.75 164.95 A2.35 2.3 0 0 0 94.05 164.95 Z"/>
<path d="M87.5 160.1 L96.4 190.6 V228" stroke="#000" stroke-width="1.4" fill="none" stroke-linejoin="round"/>
<line x1="96.4" y1="228" x2="96.4" y2="232.8" stroke="#ff1a10" stroke-width="1.2" />
<text x="87.8" y="154.1" font-family="'Liberation Sans', sans-serif" font-size="6.2" fill="#56566e" text-anchor="start" >3</text>
<line x1="125.35" y1="148.7" x2="125.35" y2="154" stroke="#ff1a10" stroke-width="1" />
<line x1="125.35" y1="154" x2="125.35" y2="161.3" stroke="#000" stroke-width="1.3" />
<path fill-rule="evenodd" fill="#000" d="M121.75 161.1 H128.95 V164.9 A3.6 3.6 0 0 1 121.75 164.9 Z M123 164.95 A2.35 2.3 0 0 0 127.7 164.95 A2.35 2.3 0 0 0 123 164.95 Z"/>
<path d="M116.45 160.1 L125.35 190.6 V228" stroke="#000" stroke-width="1.4" fill="none" stroke-linejoin="round"/>
<line x1="125.35" y1="228" x2="125.35" y2="232.8" stroke="#ff1a10" stroke-width="1.2" />
<text x="116.75" y="154.1" font-family="'Liberation Sans', sans-serif" font-size="6.2" fill="#56566e" text-anchor="start" >5</text>
<line x1="154.3" y1="148.7" x2="154.3" y2="154" stroke="#ff1a10" stroke-width="1" />
<line x1="154.3" y1="154" x2="154.3" y2="161.3" stroke="#000" stroke-width="1.3" />
<path fill-rule="evenodd" fill="#000" d="M150.7 161.1 H157.9 V164.9 A3.6 3.6 0 0 1 150.7 164.9 Z M151.95 164.95 A2.35 2.3 0 0 0 156.65 164.95 A2.35 2.3 0 0 0 151.95 164.95 Z"/>
<path d="M145.4 160.1 L154.3 190.6 V228" stroke="#000" stroke-width="1.4" fill="none" stroke-linejoin="round"/>
<line x1="154.3" y1="228" x2="154.3" y2="232.8" stroke="#ff1a10" stroke-width="1.2" />
<text x="145.7" y="154.1" font-family="'Liberation Sans', sans-serif" font-size="6.2" fill="#56566e" text-anchor="start" >7</text>
<path d="M154.3 197.1 H21.2 V222.9 H154.3" stroke="#000" stroke-width="2.2" fill="none" stroke-linejoin="miter"/>
<line x1="67.5" y1="205.6" x2="154.3" y2="205.6" stroke="#000" stroke-width="1.4" />
<line x1="67.5" y1="213.9" x2="154.3" y2="213.9" stroke="#000" stroke-width="2.2" />
<path d="M154.3 196.4 A5.3 4.6 0 0 1 154.3 205.6" stroke="#000" stroke-width="1.3" fill="none" />
<path d="M154.3 205.6 A5.3 4.15 0 0 1 154.3 213.9" stroke="#000" stroke-width="1.3" fill="none" />
<path d="M154.3 213.9 A5.3 4.85 0 0 1 154.3 223.6" stroke="#000" stroke-width="1.3" fill="none" />
<line x1="9.5" y1="170.1" x2="9.5" y2="182.8" stroke="#000" stroke-width="1.2" />
<line x1="9.5" y1="176.5" x2="12.6" y2="176.5" stroke="#000" stroke-width="1.2" />
<path d="M15.8 176.5 L21.3 173.5 V179.5 Z" stroke="#000" stroke-width="1.1" fill="#fff" />
<line x1="15.8" y1="176.5" x2="18.6" y2="176.5" stroke="#000" stroke-width="1.2" />
<line x1="21.6" y1="176.5" x2="29" y2="176.5" stroke="#000" stroke-width="1.1" stroke-dasharray="2.6 2.8"/>
<rect x="29.9" y="168" width="17.1" height="16.7" fill="#fff" stroke="#000" stroke-width="2"/>
<line x1="38.4" y1="168" x2="38.4" y2="185" stroke="#000" stroke-width="1.2" />
<line x1="30" y1="176.5" x2="47" y2="176.5" stroke="#000" stroke-width="1.2" />
<line x1="46.48" y1="176.5" x2="147.4" y2="176.5" stroke="#000" stroke-width="1.15" stroke-dasharray="4 2.05"/>
<line x1="38.4" y1="186.4" x2="38.4" y2="209.3" stroke="#000" stroke-width="1.1" stroke-dasharray="3.7 2.6" stroke-dashoffset="-0.5"/>
<line x1="35" y1="209.3" x2="38.9" y2="209.3" stroke="#000" stroke-width="1.1" />
<rect x="8" y="201.1" width="26" height="16.7" fill="#fff" stroke="#000" stroke-width="2"/>
<text x="15.4" y="214" font-family="'Liberation Sans', sans-serif" font-size="9" fill="#1a0a20" text-anchor="start" >I&#916;</text>
<text x="65.3" y="230.8" font-family="'Liberation Sans', sans-serif" font-size="6.2" fill="#56566e" text-anchor="end" >N</text>
<text x="69.4" y="230.8" font-family="'Liberation Sans', sans-serif" font-size="6.2" fill="#56566e" text-anchor="start" >2</text>
<text x="94.2" y="230.8" font-family="'Liberation Sans', sans-serif" font-size="6.2" fill="#56566e" text-anchor="end" >L3</text>
<text x="98.3" y="230.8" font-family="'Liberation Sans', sans-serif" font-size="6.2" fill="#56566e" text-anchor="start" >4</text>
<text x="123.15" y="230.8" font-family="'Liberation Sans', sans-serif" font-size="6.2" fill="#56566e" text-anchor="end" >L2</text>
<text x="127.25" y="230.8" font-family="'Liberation Sans', sans-serif" font-size="6.2" fill="#56566e" text-anchor="start" >6</text>
<text x="152.1" y="230.8" font-family="'Liberation Sans', sans-serif" font-size="6.2" fill="#56566e" text-anchor="end" >L1</text>
<text x="156.2" y="230.8" font-family="'Liberation Sans', sans-serif" font-size="6.2" fill="#56566e" text-anchor="start" >8</text>
<line x1="472.7" y1="148.7" x2="472.7" y2="154" stroke="#ff1a10" stroke-width="1" />
<line x1="472.7" y1="154" x2="472.7" y2="161.3" stroke="#000" stroke-width="1.3" />
<path fill-rule="evenodd" fill="#000" d="M469.1 161.1 H476.3 V164.9 A3.6 3.6 0 0 1 469.1 164.9 Z M470.35 164.95 A2.35 2.3 0 0 0 475.05 164.95 A2.35 2.3 0 0 0 470.35 164.95 Z"/>
<path d="M463.8 160.1 L472.7 190.6 V228" stroke="#000" stroke-width="1.4" fill="none" stroke-linejoin="round"/>
<line x1="472.7" y1="228" x2="472.7" y2="232.8" stroke="#ff1a10" stroke-width="1.2" />
<text x="464.1" y="154.1" font-family="'Liberation Sans', sans-serif" font-size="6.2" fill="#56566e" text-anchor="start" >1</text>
<line x1="501.6" y1="148.7" x2="501.6" y2="154" stroke="#ff1a10" stroke-width="1" />
<line x1="501.6" y1="154" x2="501.6" y2="161.3" stroke="#000" stroke-width="1.3" />
<path fill-rule="evenodd" fill="#000" d="M498 161.1 H505.2 V164.9 A3.6 3.6 0 0 1 498 164.9 Z M499.25 164.95 A2.35 2.3 0 0 0 503.95 164.95 A2.35 2.3 0 0 0 499.25 164.95 Z"/>
<path d="M492.7 160.1 L501.6 190.6 V228" stroke="#000" stroke-width="1.4" fill="none" stroke-linejoin="round"/>
<line x1="501.6" y1="228" x2="501.6" y2="232.8" stroke="#ff1a10" stroke-width="1.2" />
<text x="493" y="154.1" font-family="'Liberation Sans', sans-serif" font-size="6.2" fill="#56566e" text-anchor="start" >3</text>
<line x1="530.55" y1="148.7" x2="530.55" y2="154" stroke="#ff1a10" stroke-width="1" />
<line x1="530.55" y1="154" x2="530.55" y2="161.3" stroke="#000" stroke-width="1.3" />
<path fill-rule="evenodd" fill="#000" d="M526.95 161.1 H534.15 V164.9 A3.6 3.6 0 0 1 526.95 164.9 Z M528.2 164.95 A2.35 2.3 0 0 0 532.9 164.95 A2.35 2.3 0 0 0 528.2 164.95 Z"/>
<path d="M521.65 160.1 L530.55 190.6 V228" stroke="#000" stroke-width="1.4" fill="none" stroke-linejoin="round"/>
<line x1="530.55" y1="228" x2="530.55" y2="232.8" stroke="#ff1a10" stroke-width="1.2" />
<text x="521.95" y="154.1" font-family="'Liberation Sans', sans-serif" font-size="6.2" fill="#56566e" text-anchor="start" >5</text>
<line x1="559.5" y1="148.7" x2="559.5" y2="154" stroke="#ff1a10" stroke-width="1" />
<line x1="559.5" y1="154" x2="559.5" y2="161.3" stroke="#000" stroke-width="1.3" />
<path fill-rule="evenodd" fill="#000" d="M555.9 161.1 H563.1 V164.9 A3.6 3.6 0 0 1 555.9 164.9 Z M557.15 164.95 A2.35 2.3 0 0 0 561.85 164.95 A2.35 2.3 0 0 0 557.15 164.95 Z"/>
<path d="M550.6 160.1 L559.5 190.6 V228" stroke="#000" stroke-width="1.4" fill="none" stroke-linejoin="round"/>
<line x1="559.5" y1="228" x2="559.5" y2="232.8" stroke="#ff1a10" stroke-width="1.2" />
<text x="550.9" y="154.1" font-family="'Liberation Sans', sans-serif" font-size="6.2" fill="#56566e" text-anchor="start" >7</text>
<path d="M559.5 197.1 H426.4 V222.9 H559.5" stroke="#000" stroke-width="2.2" fill="none" stroke-linejoin="miter"/>
<line x1="472.7" y1="205.6" x2="559.5" y2="205.6" stroke="#000" stroke-width="1.4" />
<line x1="472.7" y1="213.9" x2="559.5" y2="213.9" stroke="#000" stroke-width="2.2" />
<path d="M559.5 196.4 A5.3 4.6 0 0 1 559.5 205.6" stroke="#000" stroke-width="1.3" fill="none" />
<path d="M559.5 205.6 A5.3 4.15 0 0 1 559.5 213.9" stroke="#000" stroke-width="1.3" fill="none" />
<path d="M559.5 213.9 A5.3 4.85 0 0 1 559.5 223.6" stroke="#000" stroke-width="1.3" fill="none" />
<line x1="414.7" y1="170.1" x2="414.7" y2="182.8" stroke="#000" stroke-width="1.2" />
<line x1="414.7" y1="176.5" x2="417.8" y2="176.5" stroke="#000" stroke-width="1.2" />
<path d="M421 176.5 L426.5 173.5 V179.5 Z" stroke="#000" stroke-width="1.1" fill="#fff" />
<line x1="421" y1="176.5" x2="423.8" y2="176.5" stroke="#000" stroke-width="1.2" />
<line x1="426.8" y1="176.5" x2="434.2" y2="176.5" stroke="#000" stroke-width="1.1" stroke-dasharray="2.6 2.8"/>
<rect x="435.1" y="168" width="17.1" height="16.7" fill="#fff" stroke="#000" stroke-width="2"/>
<line x1="443.6" y1="168" x2="443.6" y2="185" stroke="#000" stroke-width="1.2" />
<line x1="435.2" y1="176.5" x2="452.2" y2="176.5" stroke="#000" stroke-width="1.2" />
<line x1="451.68" y1="176.5" x2="552.6" y2="176.5" stroke="#000" stroke-width="1.15" stroke-dasharray="4 2.05"/>
<line x1="443.6" y1="186.4" x2="443.6" y2="209.3" stroke="#000" stroke-width="1.1" stroke-dasharray="3.7 2.6" stroke-dashoffset="-0.5"/>
<line x1="440.2" y1="209.3" x2="444.1" y2="209.3" stroke="#000" stroke-width="1.1" />
<rect x="413.2" y="201.1" width="26" height="16.7" fill="#fff" stroke="#000" stroke-width="2"/>
<text x="420.6" y="214" font-family="'Liberation Sans', sans-serif" font-size="9" fill="#4a1a10" text-anchor="start" >I&#916;</text>
<text x="478.5" y="230.1" font-family="'Liberation Sans', sans-serif" font-size="5.8" fill="#56566e" text-anchor="start" >N</text>
<text x="478.5" y="238.4" font-family="'Liberation Sans', sans-serif" font-size="5.8" fill="#56566e" text-anchor="start" >2</text>
<text x="507.4" y="230.1" font-family="'Liberation Sans', sans-serif" font-size="5.8" fill="#56566e" text-anchor="start" >L3 .</text>
<text x="507.4" y="238.4" font-family="'Liberation Sans', sans-serif" font-size="5.8" fill="#56566e" text-anchor="start" >4</text>
<text x="536.35" y="230.1" font-family="'Liberation Sans', sans-serif" font-size="5.8" fill="#56566e" text-anchor="start" >L2.</text>
<text x="536.35" y="238.4" font-family="'Liberation Sans', sans-serif" font-size="5.8" fill="#56566e" text-anchor="start" >6</text>
<text x="565.3" y="230.1" font-family="'Liberation Sans', sans-serif" font-size="5.8" fill="#56566e" text-anchor="start" >L1.</text>
<text x="565.3" y="238.4" font-family="'Liberation Sans', sans-serif" font-size="5.8" fill="#56566e" text-anchor="start" >8</text>
<path d="M120 372.87 L262.6 321.5 L134.59 386.66 A61.0 39.2 0 1 1 120 372.87 Z" fill="#eeff00" fill-opacity="0.72" stroke="none"/>
<path d="M120 372.87 L262.6 321.5 L134.59 386.66 A61.0 39.2 0 1 1 120 372.87 Z" fill="none" stroke="#f89e00" stroke-opacity="0.95" stroke-width="2" stroke-linejoin="round"/>
<path d="M138.92 399.32 L263.6 420.7 L134.75 415.68 A61.0 39.2 0 1 1 138.92 399.32 Z" fill="#eeff00" fill-opacity="0.72" stroke="none"/>
<path d="M138.92 399.32 L263.6 420.7 L134.75 415.68 A61.0 39.2 0 1 1 138.92 399.32 Z" fill="none" stroke="#f89e00" stroke-opacity="0.95" stroke-width="2" stroke-linejoin="round"/>
<path d="M129.22 422.59 L260 522.9 L109.64 434.82 A61.0 39.2 0 1 1 129.22 422.59 Z" fill="#eeff00" fill-opacity="0.72" stroke="none"/>
<path d="M129.22 422.59 L260 522.9 L109.64 434.82 A61.0 39.2 0 1 1 129.22 422.59 Z" fill="none" stroke="#f89e00" stroke-opacity="0.95" stroke-width="2" stroke-linejoin="round"/>
<path d="M117.81 431 L262.8 621.3 L95.44 438.86 A61.0 39.2 0 1 1 117.81 431 Z" fill="#eeff00" fill-opacity="0.72" stroke="none"/>
<path d="M117.81 431 L262.8 621.3 L95.44 438.86 A61.0 39.2 0 1 1 117.81 431 Z" fill="none" stroke="#f89e00" stroke-opacity="0.95" stroke-width="2" stroke-linejoin="round"/>
<text x="78" y="378.7" font-family="'Liberation Serif', serif" font-size="10.8" fill="#263a34" stroke="#263a34" stroke-width="0.22" text-anchor="middle" textLength="47.4" lengthAdjust="spacingAndGlyphs">Connection</text>
<text x="78" y="390.78" font-family="'Liberation Serif', serif" font-size="10.8" fill="#263a34" stroke="#263a34" stroke-width="0.22" text-anchor="middle" textLength="87.4" lengthAdjust="spacingAndGlyphs">colours were changed</text>
<text x="78" y="402.86" font-family="'Liberation Serif', serif" font-size="10.8" fill="#263a34" stroke="#263a34" stroke-width="0.22" text-anchor="middle" textLength="106.1" lengthAdjust="spacingAndGlyphs">with &quot;right-click Edit&quot;, one</text>
<text x="78" y="414.94" font-family="'Liberation Serif', serif" font-size="10.8" fill="#263a34" stroke="#263a34" stroke-width="0.22" text-anchor="middle" textLength="78" lengthAdjust="spacingAndGlyphs">at a time - very time</text>
<text x="78" y="427.02" font-family="'Liberation Serif', serif" font-size="10.8" fill="#263a34" stroke="#263a34" stroke-width="0.22" text-anchor="middle" textLength="44.4" lengthAdjust="spacingAndGlyphs">consuming</text>
<path d="M451.81 266.34 L675.3 319.9 L443.85 282.85 A61.0 39.25 0 1 1 451.81 266.34 Z" fill="#eeff00" fill-opacity="0.72" stroke="none"/>
<path d="M451.81 266.34 L675.3 319.9 L443.85 282.85 A61.0 39.25 0 1 1 451.81 266.34 Z" fill="none" stroke="#f89e00" stroke-opacity="0.95" stroke-width="2" stroke-linejoin="round"/>
<path d="M445.53 280.85 L674.2 420.8 L426.69 295.08 A61.0 39.25 0 1 1 445.53 280.85 Z" fill="#eeff00" fill-opacity="0.72" stroke="none"/>
<path d="M445.53 280.85 L674.2 420.8 L426.69 295.08 A61.0 39.25 0 1 1 445.53 280.85 Z" fill="none" stroke="#f89e00" stroke-opacity="0.95" stroke-width="2" stroke-linejoin="round"/>
<path d="M436.85 289.14 L673 521.6 L416.27 298.97 A61.0 39.25 0 1 1 436.85 289.14 Z" fill="#eeff00" fill-opacity="0.72" stroke="none"/>
<path d="M436.85 289.14 L673 521.6 L416.27 298.97 A61.0 39.25 0 1 1 436.85 289.14 Z" fill="none" stroke="#f89e00" stroke-opacity="0.95" stroke-width="2" stroke-linejoin="round"/>
<path d="M429.57 293.66 L670.1 624.5 L405.75 301.34 A61.0 39.25 0 1 1 429.57 293.66 Z" fill="#eeff00" fill-opacity="0.72" stroke="none"/>
<path d="M429.57 293.66 L670.1 624.5 L405.75 301.34 A61.0 39.25 0 1 1 429.57 293.66 Z" fill="none" stroke="#f89e00" stroke-opacity="0.95" stroke-width="2" stroke-linejoin="round"/>
<text x="391" y="246.9" font-family="'Liberation Serif', serif" font-size="11.6" fill="#10180a" stroke="#10180a" stroke-width="0.22" text-anchor="middle" textLength="73.6" lengthAdjust="spacingAndGlyphs">How to select all</text>
<text x="391" y="260.05" font-family="'Liberation Serif', serif" font-size="11.6" fill="#10180a" stroke="#10180a" stroke-width="0.22" text-anchor="middle" textLength="99.3" lengthAdjust="spacingAndGlyphs">these lines and Edit all</text>
<text x="391" y="273.2" font-family="'Liberation Serif', serif" font-size="11.6" fill="#10180a" stroke="#10180a" stroke-width="0.22" text-anchor="middle" textLength="107.8" lengthAdjust="spacingAndGlyphs">at same time - huge time</text>
<text x="391" y="286.35" font-family="'Liberation Serif', serif" font-size="11.6" fill="#10180a" stroke="#10180a" stroke-width="0.22" text-anchor="middle" textLength="32.6" lengthAdjust="spacingAndGlyphs">saving?</text>
</svg>
</body></html>
